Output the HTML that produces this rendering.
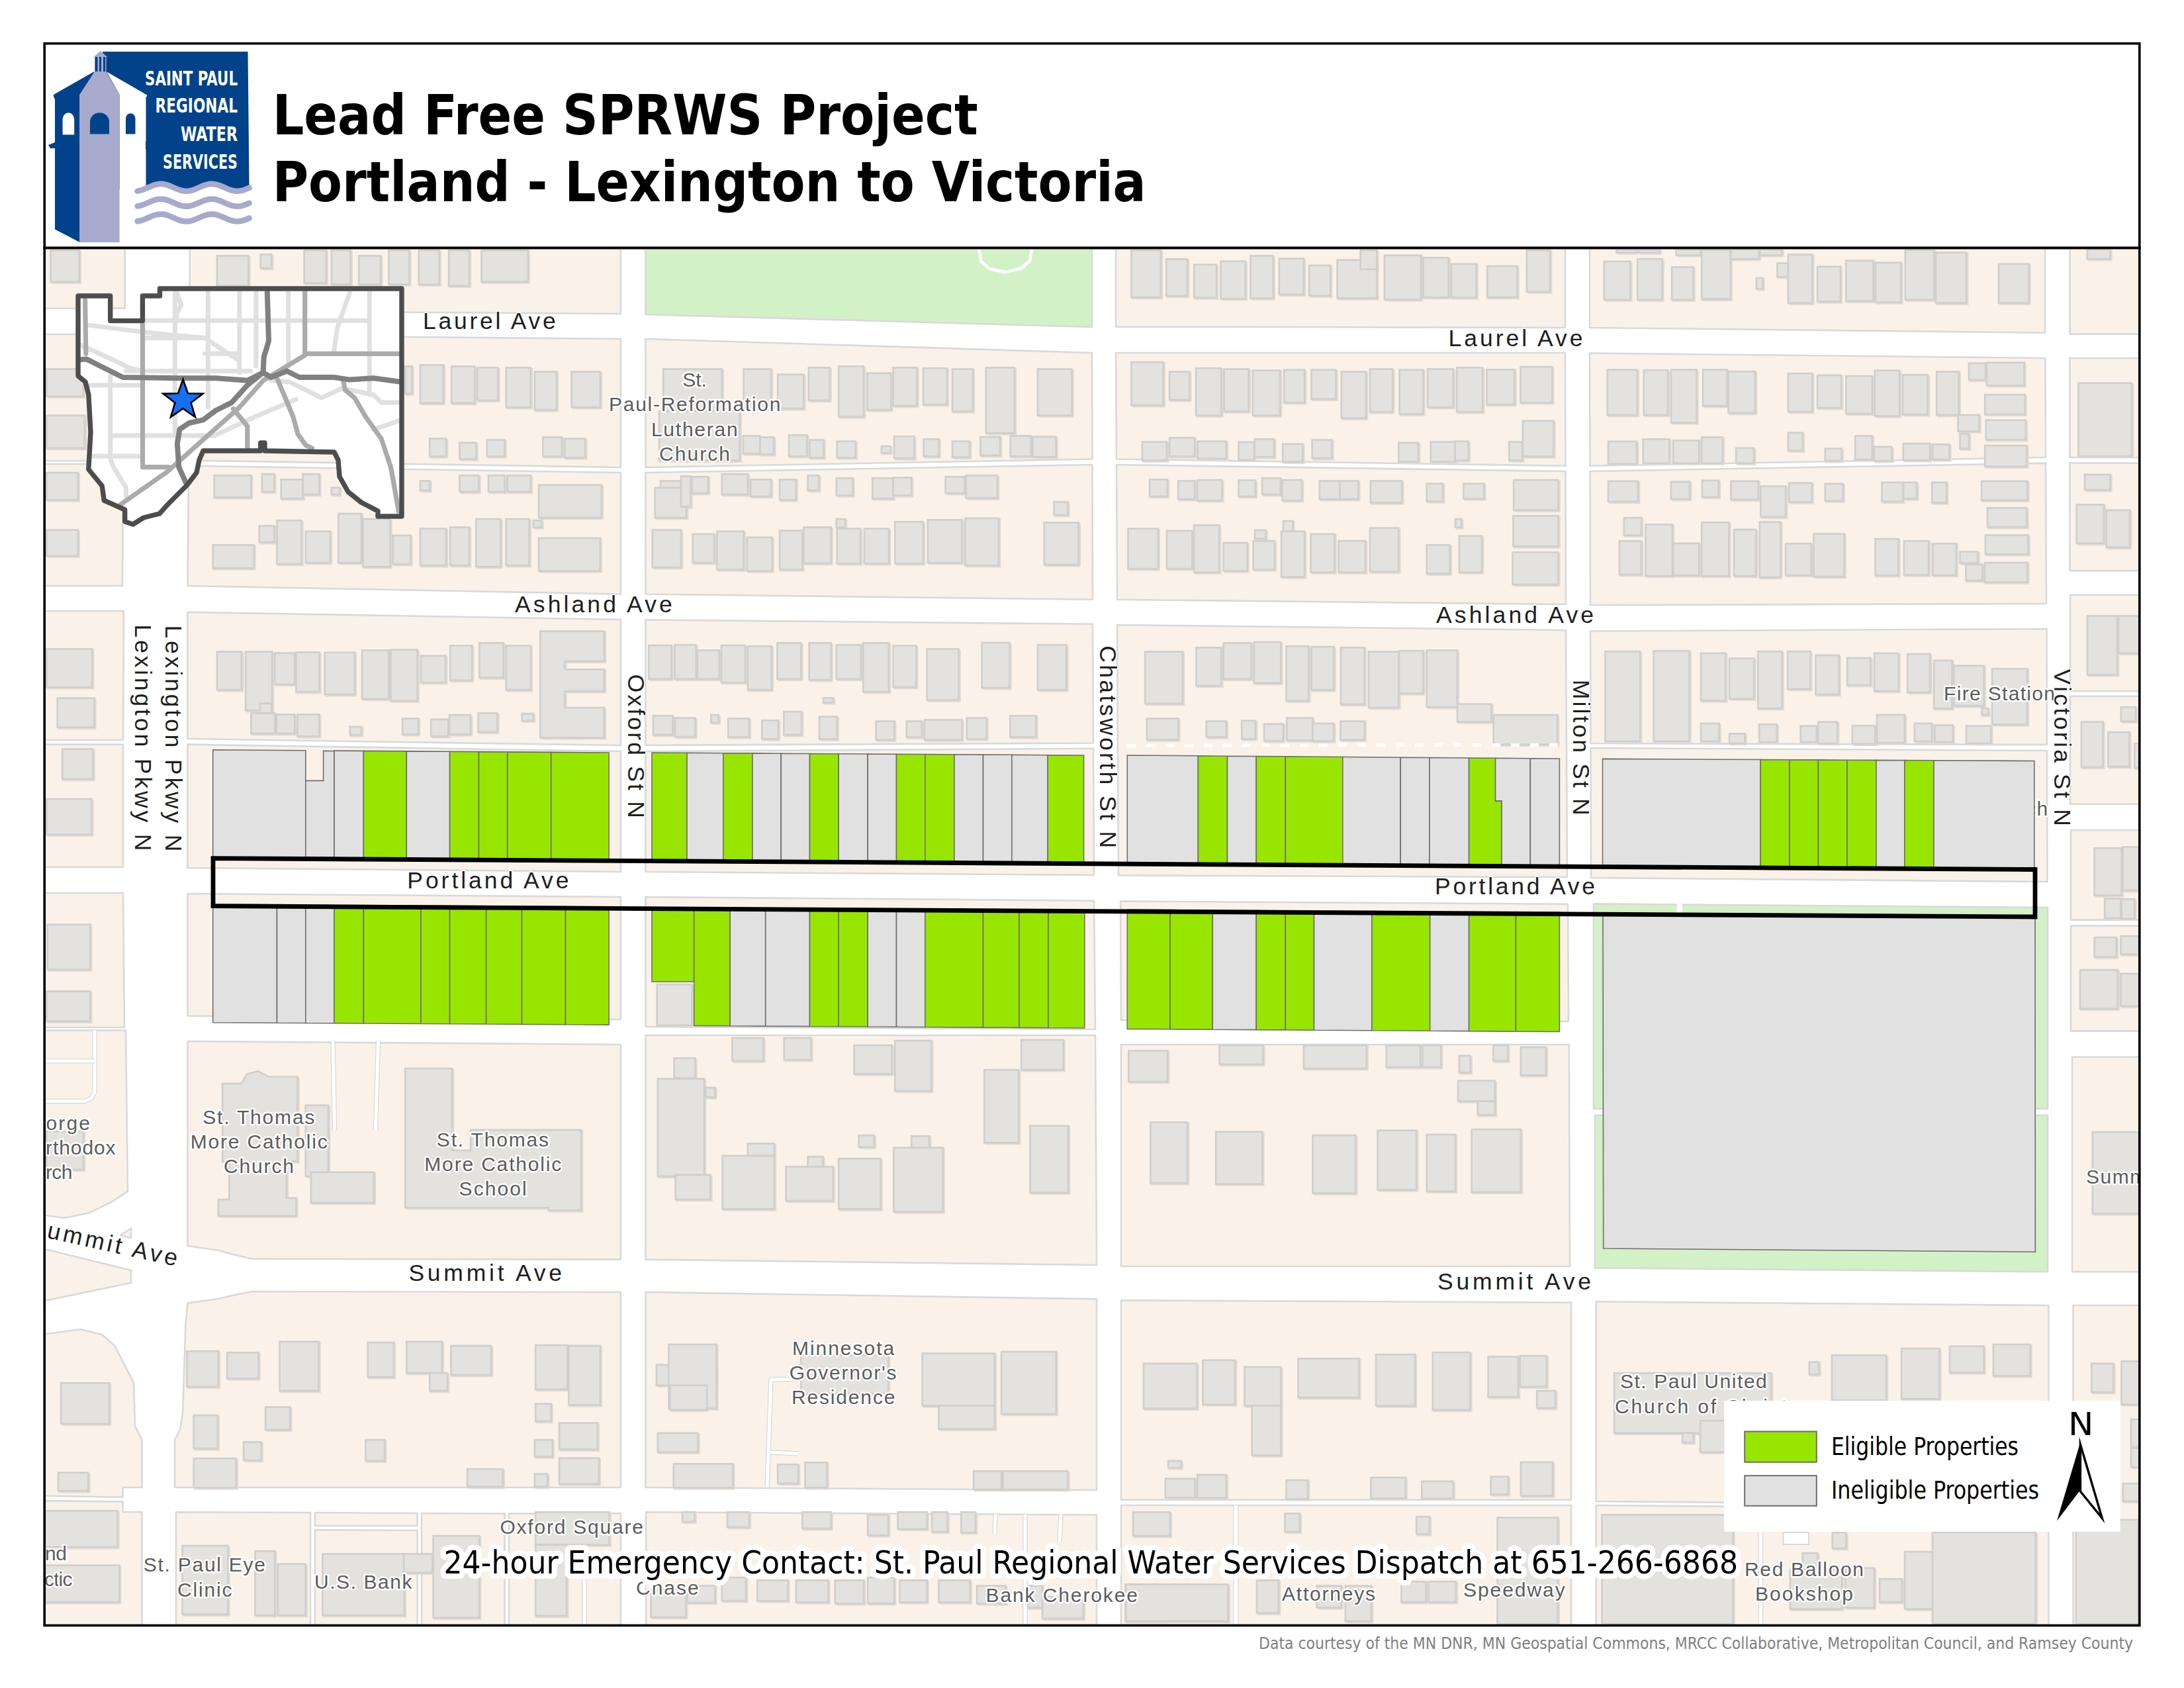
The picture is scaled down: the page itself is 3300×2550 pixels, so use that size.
<!DOCTYPE html>
<html><head><meta charset="utf-8"><title>Lead Free SPRWS Project - Portland - Lexington to Victoria</title>
<style>html,body{margin:0;padding:0;background:#fff;overflow:hidden;}svg{display:block;}</style></head>
<body>
<svg width="3300" height="2550" viewBox="0 0 3300 2550">
<rect width="3300" height="2550" fill="#fff"/>
<defs><clipPath id="mc"><rect x="69" y="377" width="3163" height="2077"/></clipPath><clipPath id="ic"><polygon id="insetpoly" points="118,447 166.7,447 166.7,484.6 215.4,484.6 215.4,447 241.5,447 241.5,436 607,436 607,780 571,780 571,772 546,759 526,743 513,720 511,695 505,683 400,681 400,669 393.8,669 393.8,681 307,681 301,695 297,714 282.5,733 254,761.5 241,776 217,782 201,792 188.7,788 188.7,770 157.3,756 154.2,734 133.8,709 137,652.6 133.8,596 129,577 118,567.8"/></clipPath></defs>
<g clip-path="url(#mc)">
<rect x="60" y="370" width="3180" height="2100" fill="#ffffff"/>
<g stroke="#d9d9d9" stroke-width="2.6" stroke-linejoin="round">
<polygon points="60,370 188.7,370 188.7,465.8 60,465.8" fill="#faf2e9"/>
<polygon points="60,505 188.7,505 188.7,696 60,696" fill="#faf2e9"/>
<polygon points="60,701 186,701 185,885 60,885" fill="#faf2e9"/>
<polygon points="60,923 187,923 186,1118 60,1118" fill="#faf2e9"/>
<polygon points="60,1124.6 186,1124.6 186,1310 60,1310" fill="#faf2e9"/>
<polygon points="60,1349 186,1349 188,1552 60,1552" fill="#faf2e9"/>
<polygon points="60,1556.5 190,1556.5 193,1799.6 170,1815 134,1832.6 97,1840 60,1834.6" fill="#faf2e9"/>
<polygon points="60,1885 198,1919 198,1938 60,1966.5" fill="#faf2e9"/>
<polygon points="182,1866 198,1855.5 198,1870.3" fill="#faf2e9"/>
<polygon points="60,2016.5 121.8,2008 154.8,2016.5 173.3,2033 202,2088.6 204,2154.5 214.5,2175 214.5,2247 185.7,2247 185.7,2261.7 60,2259.6" fill="#faf2e9"/>
<polygon points="60,2267 185.7,2268.6 185.7,2284.3 214.5,2284.3 214.5,2470 60,2470" fill="#faf2e9"/>
<polygon points="286.7,370 938,370 938,474 286.7,469.5" fill="#faf2e9"/>
<polygon points="286.7,506 938,512 938,706 285,695.5" fill="#faf2e9"/>
<polygon points="285,703.8 938,714 938,897.5 283.5,885" fill="#faf2e9"/>
<polygon points="283.5,924.7 938,936 938,1126 283.5,1116" fill="#faf2e9"/>
<polygon points="283.5,1124.6 938,1135 938,1317 283.5,1311" fill="#faf2e9"/>
<polygon points="283.5,1350 938,1355 938,1540 283.5,1534.6" fill="#faf2e9"/>
<polygon points="283.5,1573 938,1578 938,1902.6 381.4,1901.8 360,1897 330,1889 283.5,1882" fill="#faf2e9"/>
<polygon points="283.5,1968.6 330,1962 360,1955 381,1951 938,1952 938,2247 264,2247 264,2175 272,2160 276,2136 280.5,2000" fill="#faf2e9"/>
<polygon points="266,2284.3 469,2285 469,2470 266,2470" fill="#faf2e9"/>
<polygon points="476,2285 630.7,2286 630.7,2305 476,2305" fill="#faf2e9"/>
<polygon points="476,2311 630.7,2312 630.7,2470 476,2470" fill="#faf2e9"/>
<polygon points="637,2286 762.6,2286.5 762.6,2470 637,2470" fill="#faf2e9"/>
<polygon points="769,2286.5 938,2286 938,2470 769,2470" fill="#faf2e9"/>
<polygon points="975.4,370 1650,370 1650,494 975.4,475" fill="#d3f1c7"/>
<polygon points="975.4,512 1650,533 1650.5,693.5 975.4,706" fill="#faf2e9"/>
<polygon points="975.4,714 1650.5,702 1651,905.7 975.4,897.5" fill="#faf2e9"/>
<polygon points="975.4,936.3 1651,942.8 1652,1122.5 975.4,1125.8" fill="#faf2e9"/>
<polygon points="975.4,1135 1652,1130.7 1653,1322 975.4,1317" fill="#faf2e9"/>
<polygon points="975.4,1355 1653,1360.7 1655,1555 975.4,1551" fill="#faf2e9"/>
<polygon points="975.4,1564 1655,1564 1657,1911 975.4,1902.6" fill="#faf2e9"/>
<polygon points="975.4,1952 1657,1962.4 1657,2251 975.4,2247" fill="#faf2e9"/>
<polygon points="976,2284.3 1657,2288.5 1657,2470 976,2470" fill="#faf2e9"/>
<polygon points="1686,370 2365,370 2365,495 1686,493.6" fill="#faf2e9"/>
<polygon points="1686,533 2365,533 2365.5,703.8 1687,693.5" fill="#faf2e9"/>
<polygon points="1687,702 2365.5,712 2366,913 1688,905.7" fill="#faf2e9"/>
<polygon points="1688,944 2366,952 2368,1325 1690,1322.4" fill="#faf2e9"/>
<polygon points="1693,1361.5 2369,1365.7 2370,1543 1694,1541" fill="#faf2e9"/>
<polygon points="1694,1578 2370.8,1578 2372,1913 1694,1913" fill="#faf2e9"/>
<polygon points="1694,1964.4 2374,1967.7 2374,2265.8 1694,2265.8" fill="#faf2e9"/>
<polygon points="1694,2274 2374,2274 2374,2470 1694,2470" fill="#faf2e9"/>
<polygon points="2402,370 3090,370 3090,502.7 2402,495" fill="#faf2e9"/>
<polygon points="2402,533.5 3090.5,541 3091,691 2402.5,703.8" fill="#faf2e9"/>
<polygon points="2402.5,712 3091,699.6 3092,912 2403,914" fill="#faf2e9"/>
<polygon points="2403,953.5 3092.5,950 3093,1125 2403.5,1123" fill="#faf2e9"/>
<polygon points="2403.5,1130 3093,1134 3093.4,1332 2404,1326" fill="#faf2e9"/>
<polygon points="2408,1365.4 3094,1371 3094,1675 2408,1675" fill="#d3f1c7"/>
<polygon points="2409.8,1684.7 3094,1684.7 3094,1921.3 2409.8,1915.4" fill="#d3f1c7"/>
<polygon points="2411.7,1966.3 3095.3,1972 3095.3,2274 2411.7,2268" fill="#faf2e9"/>
<polygon points="2411.7,2274 3095.3,2280 3095.3,2470 2411.7,2470" fill="#faf2e9"/>
<polygon points="3127.5,370 3240,370 3240,504.6 3127.5,504.6" fill="#faf2e9"/>
<polygon points="3127.5,541 3240,541 3240,691 3127.5,691" fill="#faf2e9"/>
<polygon points="3127.5,699.6 3240,699.6 3240,862.3 3127.5,862.3" fill="#faf2e9"/>
<polygon points="3128,898.8 3240,898.8 3240,1044 3128,1044" fill="#faf2e9"/>
<polygon points="3128,1051.7 3240,1051.7 3240,1214.8 3128,1214.8" fill="#faf2e9"/>
<polygon points="3129,1254 3240,1254 3240,1389.6 3129,1389.6" fill="#faf2e9"/>
<polygon points="3129,1398.6 3240,1398.6 3240,1557.6 3129,1557.6" fill="#faf2e9"/>
<polygon points="3131,1596.7 3240,1596.7 3240,1921.3 3131,1921.3" fill="#faf2e9"/>
<polygon points="3132.5,1972 3240,1972 3240,2470 3132.5,2470" fill="#faf2e9"/>
</g>
<line x1="2537.8" y1="1365" x2="2537.8" y2="1380" stroke="#fff" stroke-width="8"/>
<g fill="#e2dbd2" stroke="#e2dbd2" stroke-width="2.6" transform="translate(2,2)">
<rect x="76.5" y="378.2" width="43.3" height="47.4"/>
<rect x="70.3" y="557.5" width="55.6" height="41.2"/>
<rect x="70.3" y="627.6" width="57.7" height="49.4"/>
<rect x="70.3" y="714.1" width="47.4" height="41.2"/>
<rect x="70.3" y="800.6" width="47.4" height="39.1"/>
<rect x="327.9" y="386.5" width="47.4" height="45.3"/>
<rect x="393.8" y="384.4" width="16.5" height="20.6"/>
<rect x="459.7" y="378.2" width="33" height="49.4"/>
<rect x="500.9" y="378.2" width="28.8" height="51.5"/>
<rect x="542.1" y="386.5" width="33" height="43.3"/>
<rect x="587.5" y="378.2" width="30.9" height="51.5"/>
<rect x="632.8" y="378.2" width="30.9" height="51.5"/>
<rect x="678.1" y="378.2" width="30.9" height="53.6"/>
<rect x="727.6" y="378.2" width="70.1" height="47.4"/>
<rect x="612.2" y="553.4" width="10.3" height="41.2"/>
<rect x="634.9" y="551.3" width="35" height="57.7"/>
<rect x="682.2" y="553.4" width="35" height="55.6"/>
<rect x="721.4" y="555.4" width="30.9" height="49.4"/>
<rect x="764.7" y="555.4" width="37.1" height="59.8"/>
<rect x="807.9" y="561.6" width="33" height="57.7"/>
<rect x="863.6" y="561.6" width="43.3" height="53.6"/>
<rect x="649.3" y="662.6" width="24.7" height="26.8"/>
<rect x="694.6" y="668.8" width="24.7" height="24.7"/>
<rect x="735.8" y="664.6" width="26.8" height="24.7"/>
<rect x="820.3" y="660.5" width="28.8" height="28.8"/>
<rect x="853.3" y="662.6" width="30.9" height="28.8"/>
<rect x="323.7" y="718.2" width="55.6" height="33"/>
<rect x="395.8" y="716.1" width="18.5" height="26.8"/>
<rect x="424.7" y="724.4" width="33" height="28.8"/>
<rect x="457.7" y="716.1" width="24.7" height="30.9"/>
<rect x="500.9" y="736.8" width="12.4" height="10.3"/>
<rect x="634.9" y="726.5" width="14.4" height="14.4"/>
<rect x="694.6" y="718.2" width="28.8" height="24.7"/>
<rect x="737.9" y="718.2" width="24.7" height="24.7"/>
<rect x="766.7" y="718.2" width="35" height="24.7"/>
<rect x="814.1" y="732.6" width="94.8" height="49.4"/>
<rect x="391.7" y="794.4" width="22.7" height="24.7"/>
<rect x="418.5" y="786.2" width="37.1" height="65.9"/>
<rect x="461.8" y="802.7" width="37.1" height="47.4"/>
<rect x="511.2" y="775.9" width="35" height="74.2"/>
<rect x="548.3" y="784.1" width="41.2" height="72.1"/>
<rect x="593.6" y="808.9" width="26.8" height="43.3"/>
<rect x="634.9" y="798.6" width="39.1" height="55.6"/>
<rect x="680.2" y="796.5" width="28.8" height="57.7"/>
<rect x="719.3" y="784.1" width="37.1" height="72.1"/>
<rect x="764.7" y="784.1" width="35" height="70.1"/>
<rect x="814.1" y="813" width="92.7" height="49.4"/>
<rect x="321.7" y="823.3" width="61.8" height="35"/>
<rect x="805.9" y="786.2" width="12.4" height="10.3"/>
<rect x="1002.2" y="557.5" width="88.6" height="63.9"/>
<rect x="996" y="621.4" width="121.6" height="74.2"/>
<rect x="1123.7" y="557.5" width="41.2" height="59.8"/>
<rect x="1175.2" y="565.7" width="39.1" height="51.5"/>
<rect x="1221.8" y="555.4" width="31.7" height="49.4"/>
<rect x="1267.1" y="553.4" width="37.9" height="76.2"/>
<rect x="1310.4" y="563.7" width="35.9" height="55.6"/>
<rect x="1349.6" y="555.4" width="35.9" height="57.7"/>
<rect x="1394.9" y="556.3" width="35.9" height="54.8"/>
<rect x="1439" y="557.5" width="30.9" height="63.9"/>
<rect x="1489.7" y="555.4" width="43.3" height="98.9"/>
<rect x="1568" y="557.5" width="51.5" height="70.1"/>
<rect x="1122.9" y="658.5" width="25.5" height="26.8"/>
<rect x="1148.5" y="660.5" width="20.6" height="26"/>
<rect x="1192.1" y="657.2" width="27.2" height="32.1"/>
<rect x="1223.5" y="664.6" width="21" height="26.8"/>
<rect x="1264.7" y="666.7" width="28" height="24.7"/>
<rect x="1331.8" y="674.1" width="13.6" height="9.9"/>
<rect x="1351.2" y="659.3" width="30.1" height="33"/>
<rect x="1395.7" y="663.4" width="22.7" height="26"/>
<rect x="1439" y="666.7" width="26" height="23.9"/>
<rect x="1481.4" y="660.1" width="29.7" height="28"/>
<rect x="1526.7" y="658.5" width="30.9" height="30.9"/>
<rect x="1560.5" y="659.7" width="35" height="30.5"/>
<rect x="989.8" y="736.8" width="47.4" height="45.3"/>
<rect x="998" y="726.5" width="30.9" height="10.3"/>
<rect x="1029" y="719.4" width="14.4" height="46.2"/>
<rect x="1045.4" y="720.3" width="24.7" height="24.7"/>
<rect x="1090.8" y="716.1" width="39.1" height="30.9"/>
<rect x="1134" y="724.4" width="30.9" height="25.5"/>
<rect x="1178.1" y="724.4" width="24.7" height="30.9"/>
<rect x="1220.6" y="718.2" width="16.5" height="22.7"/>
<rect x="1263.8" y="722.3" width="24.7" height="26"/>
<rect x="1318.2" y="722.3" width="31.3" height="30.9"/>
<rect x="1349.6" y="721.5" width="27.6" height="26.8"/>
<rect x="1428.7" y="720.3" width="28.8" height="24.7"/>
<rect x="1459.6" y="718.2" width="47.4" height="34.2"/>
<rect x="1592.7" y="758.2" width="20.6" height="19.8"/>
<rect x="985.7" y="800.6" width="43.3" height="56.5"/>
<rect x="1046.7" y="806.8" width="32.6" height="43.3"/>
<rect x="1083.3" y="802.7" width="40.4" height="57.7"/>
<rect x="1128.7" y="811.8" width="37.9" height="50.7"/>
<rect x="1178.1" y="801.5" width="34.2" height="58.9"/>
<rect x="1214.4" y="796.5" width="41.2" height="54.4"/>
<rect x="1263.8" y="784.1" width="13.2" height="12.4"/>
<rect x="1264.7" y="798.6" width="35.4" height="52.7"/>
<rect x="1305.9" y="798.6" width="37.1" height="52.7"/>
<rect x="1352.4" y="788.3" width="42.4" height="63"/>
<rect x="1401.9" y="785.4" width="51.5" height="64.7"/>
<rect x="1458.3" y="782.9" width="50.7" height="71.3"/>
<rect x="1577.8" y="789.5" width="51.9" height="63.5"/>
<rect x="1709.4" y="378.2" width="44.5" height="70.9"/>
<rect x="1762.2" y="391.4" width="31.7" height="55.6"/>
<rect x="1804.2" y="399.7" width="33.8" height="49.9"/>
<rect x="1844.6" y="394.7" width="37.1" height="56.5"/>
<rect x="1889.5" y="386.5" width="34.2" height="63.9"/>
<rect x="1932.8" y="390.6" width="37.1" height="54.4"/>
<rect x="1978.1" y="400.9" width="32.1" height="45.7"/>
<rect x="2020.6" y="392.7" width="59.8" height="57.7"/>
<rect x="2055.6" y="378.2" width="24.7" height="28.8"/>
<rect x="2091.9" y="385.7" width="55.2" height="66.8"/>
<rect x="2150.4" y="389.4" width="38.3" height="59.8"/>
<rect x="2192.8" y="398.8" width="37.9" height="50.7"/>
<rect x="2247.2" y="402.1" width="45.3" height="47"/>
<rect x="2307" y="378.2" width="35" height="62.6"/>
<rect x="1709.4" y="547.2" width="48.2" height="65.1"/>
<rect x="1767.1" y="561.6" width="30.1" height="42.4"/>
<rect x="1807.1" y="556.3" width="38.3" height="71.3"/>
<rect x="1849.6" y="557.5" width="37.1" height="63.9"/>
<rect x="1892.8" y="559.6" width="41.2" height="68"/>
<rect x="1940.2" y="558.7" width="30.9" height="49.4"/>
<rect x="1981.4" y="558.7" width="37.1" height="44.1"/>
<rect x="2026.8" y="561.6" width="37.1" height="70.1"/>
<rect x="2070" y="557.5" width="34.2" height="64.7"/>
<rect x="2114.5" y="558.7" width="35.9" height="66.8"/>
<rect x="2157" y="557.5" width="38.7" height="57.7"/>
<rect x="2201.1" y="555.4" width="39.1" height="66.8"/>
<rect x="2246.4" y="558.3" width="42" height="52.7"/>
<rect x="2297.5" y="554.2" width="47.8" height="54"/>
<rect x="1725.9" y="667.5" width="37.1" height="28"/>
<rect x="1767.1" y="661.3" width="37.9" height="28"/>
<rect x="1809.6" y="666.7" width="43.3" height="26"/>
<rect x="1871.4" y="667.9" width="23.5" height="26.8"/>
<rect x="1895.7" y="663.4" width="29.3" height="26.8"/>
<rect x="1938.2" y="670.8" width="30.1" height="26.8"/>
<rect x="1982.7" y="664.6" width="29.7" height="27.6"/>
<rect x="2113.3" y="668.8" width="29.7" height="28.8"/>
<rect x="2161.9" y="667.5" width="36.7" height="30.1"/>
<rect x="2198.6" y="666.7" width="20.2" height="28.8"/>
<rect x="2280.2" y="667.5" width="19.8" height="28"/>
<rect x="2300.8" y="635.8" width="46.6" height="53.6"/>
<rect x="1737.1" y="724.4" width="26.8" height="25.5"/>
<rect x="1780.3" y="726.5" width="24.7" height="27.6"/>
<rect x="1809.2" y="725.2" width="37.1" height="30.9"/>
<rect x="1871.4" y="725.6" width="25.5" height="24.3"/>
<rect x="1907.2" y="722.3" width="27.6" height="24.7"/>
<rect x="1937.3" y="725.2" width="29.7" height="30.9"/>
<rect x="1993.8" y="726.5" width="30.9" height="27.6"/>
<rect x="2024.7" y="726.5" width="27.6" height="27.6"/>
<rect x="2070.8" y="726.5" width="47.4" height="33"/>
<rect x="2155.7" y="730.6" width="24.3" height="26.8"/>
<rect x="2211.4" y="730.6" width="30.9" height="22.7"/>
<rect x="2287.2" y="725.2" width="67.2" height="45.3"/>
<rect x="2286.4" y="779.2" width="68" height="46.2"/>
<rect x="2285.5" y="834.4" width="68.8" height="48.6"/>
<rect x="2199" y="784.1" width="9.1" height="12.4"/>
<rect x="1704.5" y="798.6" width="45.3" height="60.6"/>
<rect x="1763" y="801.9" width="38.3" height="57.3"/>
<rect x="1804.2" y="793.2" width="37.9" height="71.3"/>
<rect x="1848.7" y="820" width="35.9" height="42.4"/>
<rect x="1893.7" y="817.1" width="32.1" height="43.3"/>
<rect x="1936.1" y="802.7" width="35" height="68.8"/>
<rect x="1939" y="787" width="14.4" height="15.7"/>
<rect x="1896.1" y="801" width="16.5" height="12.8"/>
<rect x="1980.6" y="806.8" width="35.9" height="57.7"/>
<rect x="2022.6" y="817.1" width="40.4" height="47.4"/>
<rect x="2070" y="797.7" width="43.3" height="65.9"/>
<rect x="2155.7" y="823.3" width="35" height="43.3"/>
<rect x="2204.8" y="809.7" width="34.2" height="54.8"/>
<rect x="2423.8" y="395" width="39.6" height="57.7"/>
<rect x="2474.2" y="391.2" width="37.3" height="61.5"/>
<rect x="2526.2" y="403.5" width="32.3" height="49.2"/>
<rect x="2571.2" y="377.7" width="43.5" height="74.2"/>
<rect x="2653.8" y="420" width="9.6" height="16.2"/>
<rect x="2685.4" y="397.7" width="16.5" height="20.4"/>
<rect x="2701.9" y="384.6" width="36.5" height="73.1"/>
<rect x="2746.2" y="402.7" width="34.6" height="52.7"/>
<rect x="2789.2" y="393.8" width="41.5" height="60.8"/>
<rect x="2833.8" y="396.9" width="38.5" height="59.6"/>
<rect x="2878.8" y="377.7" width="43.5" height="75"/>
<rect x="2925" y="381.5" width="46.2" height="76.2"/>
<rect x="3020" y="398.8" width="45.4" height="58.8"/>
<rect x="2442.3" y="376.9" width="30.8" height="4.6"/>
<rect x="2476.9" y="376.9" width="30.8" height="4.6"/>
<rect x="2532.7" y="376.9" width="36.5" height="8.5"/>
<rect x="2615.4" y="376.9" width="42.3" height="14.2"/>
<rect x="2659.6" y="376.9" width="32.7" height="8.5"/>
<rect x="3153.8" y="376.9" width="34.6" height="14.2"/>
<rect x="2428.8" y="558.5" width="45" height="68.5"/>
<rect x="2483.8" y="559.2" width="36.2" height="67.7"/>
<rect x="2525" y="558.5" width="38.5" height="80"/>
<rect x="2573.1" y="558.5" width="36.5" height="54.6"/>
<rect x="2611.5" y="561.2" width="40.4" height="62.7"/>
<rect x="2701.9" y="564.2" width="36.5" height="57.7"/>
<rect x="2746.2" y="566.9" width="35.8" height="49.2"/>
<rect x="2789.2" y="568.1" width="39.6" height="56.9"/>
<rect x="2832.7" y="559.6" width="37.3" height="68.8"/>
<rect x="2875" y="566.2" width="37.7" height="60"/>
<rect x="2926.2" y="561.5" width="33.5" height="65.4"/>
<rect x="2975" y="548.8" width="25" height="25"/>
<rect x="3001.9" y="547.7" width="56.5" height="34.6"/>
<rect x="2999.2" y="596.2" width="60.4" height="29.6"/>
<rect x="2958.5" y="626.9" width="31.9" height="24.6"/>
<rect x="3000.8" y="634.6" width="60" height="29.6"/>
<rect x="2961.5" y="655.4" width="13.5" height="22.3"/>
<rect x="2999.2" y="673.1" width="63.1" height="31.5"/>
<rect x="2430" y="666.9" width="43.1" height="33.8"/>
<rect x="2482.7" y="663.5" width="39.6" height="36.2"/>
<rect x="2528.1" y="665.4" width="39.2" height="34.2"/>
<rect x="2571.2" y="660.4" width="31.5" height="39.2"/>
<rect x="2623.1" y="676.9" width="26.9" height="22.7"/>
<rect x="2701.9" y="653.8" width="21.9" height="26.9"/>
<rect x="2757.7" y="677.7" width="25" height="18.5"/>
<rect x="2803.1" y="658.5" width="25.8" height="35.8"/>
<rect x="2831.9" y="675" width="26.5" height="21.2"/>
<rect x="2875.8" y="670" width="40.4" height="25"/>
<rect x="2920" y="671.2" width="25.4" height="23.1"/>
<rect x="3140.4" y="578.8" width="80.8" height="110.4"/>
<rect x="2430" y="726.9" width="45" height="30.8"/>
<rect x="2525" y="727.7" width="28.1" height="26.2"/>
<rect x="2571.9" y="725.8" width="25" height="25"/>
<rect x="2615.4" y="726.9" width="41.5" height="27.7"/>
<rect x="2660.4" y="734.6" width="37.7" height="46.2"/>
<rect x="2703.1" y="729.6" width="34.6" height="28.8"/>
<rect x="2757.7" y="730.8" width="26.9" height="25.8"/>
<rect x="2843.5" y="728.8" width="31.5" height="28.8"/>
<rect x="2876.2" y="728.8" width="20" height="24.6"/>
<rect x="2919.2" y="728.8" width="21.9" height="30.8"/>
<rect x="2994.2" y="726.9" width="69.2" height="28.8"/>
<rect x="3003.1" y="767.3" width="59.2" height="28.8"/>
<rect x="3000" y="808.5" width="64.6" height="28.8"/>
<rect x="2998.8" y="850" width="64.6" height="29.6"/>
<rect x="2453.8" y="782.3" width="26.2" height="26.2"/>
<rect x="2446.9" y="817.3" width="33.1" height="50.8"/>
<rect x="2486.5" y="792.3" width="40.4" height="77.7"/>
<rect x="2528.1" y="820.8" width="39.2" height="48.5"/>
<rect x="2571.2" y="789.2" width="41.2" height="80.8"/>
<rect x="2620" y="800" width="33.1" height="70"/>
<rect x="2658.8" y="788.5" width="31.5" height="83.5"/>
<rect x="2698.1" y="821.2" width="38.8" height="47.7"/>
<rect x="2740.4" y="806.5" width="46.2" height="64.6"/>
<rect x="2833.5" y="814.2" width="35" height="55"/>
<rect x="2876.9" y="817.3" width="37.3" height="51.2"/>
<rect x="2920" y="821.2" width="35.8" height="47.7"/>
<rect x="2961.5" y="833.5" width="26.9" height="17.3"/>
<rect x="2970.4" y="852.7" width="25" height="24.2"/>
<rect x="3150" y="716.9" width="38.5" height="23.1"/>
<rect x="3137.7" y="762.3" width="41.2" height="58.5"/>
<rect x="3182.7" y="770.8" width="35.4" height="56.2"/>
<rect x="70.3" y="980.4" width="68.8" height="57.7"/>
<rect x="86.8" y="1054.5" width="55.6" height="44.1"/>
<rect x="94.2" y="1131.6" width="46.2" height="45.3"/>
<rect x="70.3" y="1207" width="68" height="53.6"/>
<rect x="71.5" y="1396.6" width="64.7" height="68"/>
<rect x="70.3" y="1497.5" width="65.9" height="45.3"/>
<rect x="327.9" y="984.5" width="37.1" height="57.7"/>
<rect x="371.1" y="984.5" width="40" height="88.6"/>
<rect x="415.2" y="986.5" width="30.1" height="47.4"/>
<rect x="447.4" y="985.3" width="35" height="59.8"/>
<rect x="490.6" y="985.7" width="45.3" height="63.5"/>
<rect x="547.1" y="982.4" width="40.4" height="73.4"/>
<rect x="590.3" y="981.6" width="40.4" height="77.1"/>
<rect x="636.1" y="990.7" width="37.1" height="40.4"/>
<rect x="680.2" y="975.4" width="33" height="52.3"/>
<rect x="724.3" y="971.3" width="36.3" height="52.3"/>
<rect x="764.7" y="975.4" width="37.1" height="66.8"/>
<rect x="379.4" y="1077.2" width="35.9" height="30.9"/>
<rect x="393" y="1062.8" width="17.3" height="14.4"/>
<rect x="417.7" y="1079.3" width="27.6" height="28.8"/>
<rect x="449.4" y="1079.3" width="33" height="33"/>
<rect x="528.9" y="1097.8" width="17.3" height="12.4"/>
<rect x="608.1" y="1085.4" width="23.9" height="23.9"/>
<rect x="651.3" y="1086.7" width="26" height="25.5"/>
<rect x="678.9" y="1080.1" width="32.1" height="29.3"/>
<rect x="722.6" y="1077.2" width="28.8" height="28.8"/>
<rect x="788.6" y="1078" width="17.3" height="10.7"/>
<rect x="980.3" y="975" width="34.2" height="50.7"/>
<rect x="1019.5" y="974.2" width="32.1" height="51.5"/>
<rect x="1053.7" y="982.4" width="33" height="43.3"/>
<rect x="1089.9" y="975" width="35.9" height="56"/>
<rect x="1129.9" y="976.2" width="35.9" height="65.9"/>
<rect x="1174.4" y="971.3" width="35.9" height="54.4"/>
<rect x="1222.6" y="971.3" width="33" height="55.6"/>
<rect x="1263.8" y="974.2" width="37.1" height="51.5"/>
<rect x="1304.2" y="971.3" width="38.7" height="73.8"/>
<rect x="1349.6" y="975.4" width="34.6" height="62.6"/>
<rect x="1400.7" y="980.4" width="47.8" height="77.1"/>
<rect x="1483.5" y="970.9" width="42" height="68"/>
<rect x="1568" y="974.2" width="43.3" height="68"/>
<rect x="1244.1" y="1054.5" width="14.8" height="7"/>
<rect x="986.9" y="1081.3" width="29.7" height="28.8"/>
<rect x="1019.9" y="1084.6" width="30.5" height="28.4"/>
<rect x="1074.3" y="1080.1" width="11.5" height="11.5"/>
<rect x="1100.2" y="1085.4" width="31.7" height="28"/>
<rect x="1151.3" y="1088.3" width="24.7" height="28"/>
<rect x="1184.3" y="1075.1" width="26.8" height="35"/>
<rect x="1237.9" y="1082.6" width="26.8" height="33.8"/>
<rect x="1323.6" y="1089.6" width="27.6" height="28"/>
<rect x="1369.7" y="1089.6" width="23.1" height="23.9"/>
<rect x="1396.9" y="1087.5" width="56.5" height="30.1"/>
<rect x="1460.8" y="1084.6" width="29.7" height="31.7"/>
<rect x="1526.3" y="1081.3" width="39.1" height="32.1"/>
<rect x="992.7" y="1487.2" width="52.7" height="61.8"/>
<rect x="1730.1" y="984.5" width="56.9" height="78.3"/>
<rect x="1807.5" y="978.3" width="37.9" height="57.7"/>
<rect x="1848.7" y="971.3" width="42" height="54.4"/>
<rect x="1894.9" y="970.1" width="40.4" height="61.8"/>
<rect x="1943.5" y="976.2" width="33.8" height="82.4"/>
<rect x="1981.4" y="977.1" width="33.8" height="65.1"/>
<rect x="2025.9" y="978.3" width="35.9" height="85.7"/>
<rect x="2068" y="984.5" width="45.3" height="84.5"/>
<rect x="2114.1" y="983.2" width="36.3" height="64.3"/>
<rect x="2155.7" y="982.4" width="46.2" height="85.7"/>
<rect x="2201.9" y="1063.6" width="51.5" height="26.8"/>
<rect x="2256.7" y="1080.1" width="96.4" height="44.5"/>
<rect x="1732.9" y="1085.4" width="47.4" height="32.1"/>
<rect x="1822.8" y="1089.6" width="30.1" height="23.9"/>
<rect x="1876.3" y="1088.7" width="20.6" height="27.6"/>
<rect x="1910.1" y="1093.7" width="28.8" height="25.5"/>
<rect x="1944.3" y="1084.6" width="39.1" height="33.8"/>
<rect x="1983.5" y="1092.9" width="31.7" height="26.8"/>
<rect x="2025.5" y="1089.6" width="36.3" height="28"/>
<rect x="2425.4" y="984.1" width="52.8" height="135.7"/>
<rect x="2498.6" y="983.3" width="54" height="136.5"/>
<rect x="2570.1" y="986.8" width="37.2" height="71.6"/>
<rect x="2613.1" y="994.6" width="37.2" height="61"/>
<rect x="2656.2" y="984.1" width="36.4" height="86"/>
<rect x="2701.1" y="984.1" width="34.4" height="56.7"/>
<rect x="2743.4" y="989.9" width="35.2" height="59.4"/>
<rect x="2791.1" y="993.9" width="35.2" height="41.1"/>
<rect x="2832.1" y="986.8" width="36.4" height="57.1"/>
<rect x="2882.2" y="988" width="34" height="57.9"/>
<rect x="2922.1" y="997.8" width="27.4" height="72.4"/>
<rect x="2952.2" y="1005.6" width="45.4" height="60.6"/>
<rect x="3010.1" y="1010.3" width="52.8" height="84.1"/>
<rect x="2994.4" y="1070.1" width="9.8" height="9.8"/>
<rect x="2570.1" y="1092.8" width="27.4" height="27"/>
<rect x="2613.1" y="1108.4" width="23.5" height="14.5"/>
<rect x="2658.1" y="1094.4" width="26.6" height="26.6"/>
<rect x="2720.7" y="1096.7" width="24.2" height="24.2"/>
<rect x="2747.3" y="1090.5" width="28.9" height="32.5"/>
<rect x="2798.9" y="1096.3" width="34.4" height="27.4"/>
<rect x="2836.1" y="1079.9" width="41.8" height="42.2"/>
<rect x="2892.8" y="1092.8" width="26.2" height="27"/>
<rect x="2923.3" y="1095.5" width="27.4" height="25.4"/>
<rect x="2971" y="1096.7" width="37.2" height="26.2"/>
<rect x="3154" y="930.5" width="45" height="88.8"/>
<rect x="3200.9" y="930.5" width="30.9" height="56.3"/>
<rect x="3204.8" y="1068.2" width="22.3" height="21.5"/>
<rect x="3145" y="1090.5" width="32.5" height="68.4"/>
<rect x="3185.3" y="1106.1" width="32.1" height="52"/>
<rect x="3225.2" y="1122.9" width="6.6" height="37.2"/>
<rect x="3164.6" y="1281.3" width="41.1" height="71.2"/>
<rect x="3207.6" y="1279.4" width="24.2" height="65.7"/>
<rect x="3180.2" y="1357.6" width="24.2" height="29.3"/>
<rect x="3205.6" y="1358.3" width="19.6" height="29.7"/>
<rect x="3164.6" y="1416.2" width="33.2" height="29.3"/>
<rect x="3204.5" y="1414.3" width="27.4" height="27.4"/>
<rect x="3143.1" y="1465.1" width="56.7" height="58.7"/>
<rect x="3204.5" y="1471" width="27.4" height="48.9"/>
<rect x="70.3" y="1709" width="55.6" height="57.7"/>
<rect x="461.8" y="1669.8" width="34.2" height="107.1"/>
<rect x="470" y="1770.8" width="94.8" height="46.2"/>
<rect x="92.1" y="2089.3" width="72.9" height="61.4"/>
<rect x="1106.4" y="1568" width="47" height="34.6"/>
<rect x="1184.7" y="1568" width="40.8" height="33"/>
<rect x="1290.6" y="1579.1" width="56.9" height="43.3"/>
<rect x="1352.4" y="1572.1" width="54.8" height="75.8"/>
<rect x="1543.2" y="1570.9" width="63.5" height="45.3"/>
<rect x="1018.7" y="1598.5" width="31.7" height="30.1"/>
<rect x="993.9" y="1629.8" width="70.1" height="147.1"/>
<rect x="1020.7" y="1774.9" width="52.7" height="37.1"/>
<rect x="1066" y="1643" width="14.4" height="14.4"/>
<rect x="1091.6" y="1746" width="78.3" height="80.4"/>
<rect x="1129.9" y="1727.5" width="40" height="18.5"/>
<rect x="1187.6" y="1762.5" width="71.3" height="51.5"/>
<rect x="1220.6" y="1747.3" width="22.7" height="15.2"/>
<rect x="1267.1" y="1750.2" width="63.5" height="76.2"/>
<rect x="1297.6" y="1715.1" width="23.1" height="17.7"/>
<rect x="1350.4" y="1733.7" width="74.2" height="96.8"/>
<rect x="1377.2" y="1716.4" width="26.8" height="17.3"/>
<rect x="1487.2" y="1616.2" width="51.9" height="110"/>
<rect x="1556.4" y="1700.7" width="57.7" height="101"/>
<rect x="1705.3" y="1587.4" width="58.9" height="46.6"/>
<rect x="1842.6" y="1579.1" width="65.9" height="28.8"/>
<rect x="1969.9" y="1579.1" width="94.8" height="35"/>
<rect x="2094.7" y="1579.1" width="51.5" height="33"/>
<rect x="2149.6" y="1579.1" width="27.6" height="33"/>
<rect x="2204.8" y="1594.8" width="16.9" height="25.5"/>
<rect x="2256.3" y="1579.1" width="21.8" height="23.5"/>
<rect x="2297.9" y="1582" width="37.9" height="42.4"/>
<rect x="2203.1" y="1632.7" width="55.6" height="30.9"/>
<rect x="2232.8" y="1663.6" width="26" height="20.6"/>
<rect x="1738.3" y="1695.4" width="55.6" height="91.9"/>
<rect x="1837.2" y="1709.8" width="70.1" height="78.7"/>
<rect x="1983.5" y="1715.1" width="64.7" height="87.4"/>
<rect x="2081.6" y="1707.7" width="58.5" height="89.8"/>
<rect x="2155.7" y="1713.9" width="43.3" height="85.7"/>
<rect x="2223.7" y="1706.1" width="74.2" height="94.8"/>
<rect x="3161.8" y="1710.1" width="70" height="123.2"/>
<rect x="88" y="2224.6" width="45.3" height="27.6"/>
<rect x="282.5" y="2041.2" width="47.4" height="53.6"/>
<rect x="343.1" y="2043.3" width="47.4" height="39.1"/>
<rect x="422.6" y="2026.8" width="58.9" height="74.2"/>
<rect x="555.7" y="2028" width="39.1" height="52.3"/>
<rect x="614.3" y="2026.8" width="53.6" height="47.4"/>
<rect x="649.3" y="2074.2" width="26.8" height="26.8"/>
<rect x="681.4" y="2033" width="60.6" height="44.1"/>
<rect x="809.2" y="2032.1" width="48.2" height="66.8"/>
<rect x="859.4" y="2033" width="47.4" height="89.4"/>
<rect x="292.8" y="2138" width="35.9" height="50.3"/>
<rect x="401.2" y="2125.7" width="37.1" height="34.2"/>
<rect x="368.2" y="2178.4" width="26.4" height="27.6"/>
<rect x="552.4" y="2175.1" width="28.8" height="31.7"/>
<rect x="809.2" y="2120.7" width="23.5" height="26.4"/>
<rect x="845" y="2149.6" width="57.7" height="40"/>
<rect x="807.9" y="2175.1" width="26.8" height="25.5"/>
<rect x="845" y="2202.7" width="59.8" height="39.1"/>
<rect x="292.8" y="2203.2" width="63.9" height="44.1"/>
<rect x="706.1" y="2219.2" width="53.6" height="26.8"/>
<rect x="807.9" y="2226.6" width="19.4" height="19.4"/>
<rect x="68.2" y="2282.3" width="109.2" height="54.8"/>
<rect x="68.2" y="2364.7" width="112.1" height="55.6"/>
<rect x="275.5" y="2335" width="68.8" height="103.8"/>
<rect x="385.5" y="2343.3" width="29.7" height="96.8"/>
<rect x="419.7" y="2362.6" width="42" height="77.5"/>
<rect x="487.3" y="2347.4" width="123.6" height="92.7"/>
<rect x="610.1" y="2347.4" width="43.3" height="28.4"/>
<rect x="654.6" y="2320.2" width="69.6" height="123.6"/>
<rect x="809.2" y="2284.3" width="111.3" height="49.4"/>
<rect x="809.2" y="2333.8" width="47" height="107.1"/>
<rect x="991.9" y="2061.8" width="90.7" height="30.9"/>
<rect x="1010.4" y="2030.9" width="72.1" height="96.8"/>
<rect x="1012.5" y="2092.7" width="55.6" height="37.1"/>
<rect x="993.9" y="2164.8" width="60.6" height="28.8"/>
<rect x="1017.8" y="2211.4" width="89.4" height="35.9"/>
<rect x="1175.2" y="2212.2" width="30.9" height="28.8"/>
<rect x="1216.5" y="2209.3" width="33" height="37.9"/>
<rect x="1210.3" y="2047.4" width="131.9" height="57.7"/>
<rect x="1393.6" y="2044.5" width="109.2" height="79.1"/>
<rect x="1418.4" y="2123.6" width="84.5" height="35"/>
<rect x="1513.2" y="2042" width="82.4" height="94"/>
<rect x="1471.1" y="2222.5" width="42" height="27.6"/>
<rect x="1515.2" y="2222.5" width="98.1" height="27.6"/>
<rect x="1031" y="2284.3" width="18.5" height="14.4"/>
<rect x="1099" y="2284.3" width="33" height="22.7"/>
<rect x="1212.3" y="2284.3" width="43.3" height="24.7"/>
<rect x="1311.2" y="2288.5" width="30.9" height="30.9"/>
<rect x="1356.6" y="2284.3" width="44.1" height="25.5"/>
<rect x="1408.1" y="2284.3" width="23.5" height="29.7"/>
<rect x="1452.2" y="2284.3" width="21.8" height="30.9"/>
<rect x="983.6" y="2401.8" width="52.7" height="41.2"/>
<rect x="1038.4" y="2395.6" width="42" height="25.5"/>
<rect x="1090.8" y="2383.2" width="36.3" height="35"/>
<rect x="1144.3" y="2387.4" width="46.2" height="30.9"/>
<rect x="1202.9" y="2387.4" width="48.6" height="33"/>
<rect x="1261.8" y="2387.4" width="43.3" height="35"/>
<rect x="1311.2" y="2383.2" width="40" height="39.1"/>
<rect x="1359.4" y="2387.4" width="41.2" height="33"/>
<rect x="1418.4" y="2387.4" width="47.4" height="33"/>
<rect x="1476.1" y="2395.6" width="43.3" height="26.8"/>
<rect x="1575" y="2412.1" width="61.8" height="33"/>
<rect x="1552.3" y="2395.6" width="22.7" height="33"/>
<rect x="1700.6" y="2393.5" width="59.3" height="55.6"/>
<rect x="1712.2" y="2284.3" width="47.8" height="35"/>
<rect x="1728" y="2059.8" width="80.4" height="68"/>
<rect x="1817.4" y="2054.8" width="48.6" height="66.8"/>
<rect x="1880.5" y="2065.1" width="54.8" height="58.5"/>
<rect x="1891.6" y="2123.6" width="43.7" height="75"/>
<rect x="1961.6" y="2052.3" width="91.9" height="58.9"/>
<rect x="2079.1" y="2046.2" width="58.9" height="77.5"/>
<rect x="2164.8" y="2042.9" width="56.5" height="86.9"/>
<rect x="2248.5" y="2049.4" width="45.3" height="61"/>
<rect x="2296.7" y="2048.2" width="40" height="46.6"/>
<rect x="2322.2" y="2101" width="28" height="26"/>
<rect x="1765.1" y="2206.9" width="19.4" height="10.3"/>
<rect x="1761" y="2233.7" width="44.5" height="28.8"/>
<rect x="1809.2" y="2227.9" width="43.7" height="35"/>
<rect x="1943.5" y="2236.1" width="32.6" height="28.4"/>
<rect x="2071.3" y="2232" width="52.3" height="31.7"/>
<rect x="2148.3" y="2237.8" width="47.4" height="26"/>
<rect x="2252.6" y="2230.8" width="26.4" height="26.8"/>
<rect x="2297.9" y="2208.9" width="48.2" height="50.7"/>
<rect x="1712.3" y="2284.3" width="55.6" height="35.9"/>
<rect x="1941.5" y="2286.4" width="22.3" height="27.6"/>
<rect x="2140.1" y="2291.3" width="19.8" height="26"/>
<rect x="2262.5" y="2292.6" width="91.1" height="160.7"/>
<rect x="1701.2" y="2393.5" width="154.5" height="55.6"/>
<rect x="1899" y="2387.4" width="33" height="49.4"/>
<rect x="1989.7" y="2395.6" width="37.1" height="33"/>
<rect x="2032.9" y="2395.6" width="39.1" height="53.6"/>
<rect x="2117.4" y="2389.4" width="37.1" height="30.9"/>
<rect x="2158.6" y="2389.4" width="41.2" height="30.9"/>
<rect x="2439.1" y="2074.2" width="236.9" height="90.7"/>
<rect x="2569" y="2146.3" width="37.1" height="47.4"/>
<rect x="2542.2" y="2164.8" width="16.5" height="14.4"/>
<rect x="2733.8" y="2057.7" width="14.4" height="18.5"/>
<rect x="2768" y="2047.4" width="82" height="68"/>
<rect x="2873.1" y="2037.1" width="57.3" height="76.2"/>
<rect x="2946" y="2033.8" width="51.5" height="39.6"/>
<rect x="3011.9" y="2030.9" width="55.6" height="47.4"/>
<rect x="3160.3" y="2059.8" width="33" height="43.3"/>
<rect x="3205.6" y="2056.5" width="26.8" height="65.1"/>
<rect x="3220" y="2144.2" width="12.4" height="41.2"/>
<rect x="3220" y="2187.5" width="12.4" height="28.8"/>
<rect x="3207.7" y="2241.1" width="24.7" height="26.8"/>
<rect x="2420.6" y="2288.5" width="197.8" height="164.8"/>
<rect x="2768.8" y="2315.2" width="20.6" height="23.9"/>
<rect x="2723.5" y="2346.1" width="22.7" height="84.5"/>
<rect x="2704.9" y="2370.9" width="78.3" height="59.8"/>
<rect x="2788.6" y="2368.8" width="43.3" height="59.8"/>
<rect x="2840.1" y="2385.3" width="33.8" height="35"/>
<rect x="2878" y="2344.1" width="49.4" height="86.5"/>
<rect x="2920" y="2315.2" width="155.8" height="138"/>
<rect x="3136.8" y="2295.9" width="93.5" height="157.4"/>
<polygon points="816.2,953.6 913,953.6 913,998.9 853.3,998.9 853.3,1011.3 913,1011.3 913,1044.2 853.3,1044.2 853.3,1069 913,1069 913,1114.3 816.2,1114.3"/>
<polygon points="336.1,1636.8 364.9,1636.8 373.2,1622.4 389.7,1618.3 406.1,1626.5 449.4,1626.5 449.4,1754.3 432.9,1754.3 432.9,1809.9 447.4,1809.9 447.4,1836.7 329.9,1836.7 329.9,1812 346.4,1812 346.4,1754.3 336.1,1754.3"/>
<polygon points="612.2,1614.2 683.1,1614.2 683.1,1737.8 711.1,1737.8 711.1,1706.9 878,1706.9 878,1828.5 828.5,1828.5 828.5,1824.3 612.2,1824.3"/>
</g>
<g fill="#e4e2de" stroke="#d0cfcd" stroke-width="2.7" stroke-linejoin="miter">
<rect x="76.5" y="378.2" width="43.3" height="47.4"/>
<rect x="70.3" y="557.5" width="55.6" height="41.2"/>
<rect x="70.3" y="627.6" width="57.7" height="49.4"/>
<rect x="70.3" y="714.1" width="47.4" height="41.2"/>
<rect x="70.3" y="800.6" width="47.4" height="39.1"/>
<rect x="327.9" y="386.5" width="47.4" height="45.3"/>
<rect x="393.8" y="384.4" width="16.5" height="20.6"/>
<rect x="459.7" y="378.2" width="33" height="49.4"/>
<rect x="500.9" y="378.2" width="28.8" height="51.5"/>
<rect x="542.1" y="386.5" width="33" height="43.3"/>
<rect x="587.5" y="378.2" width="30.9" height="51.5"/>
<rect x="632.8" y="378.2" width="30.9" height="51.5"/>
<rect x="678.1" y="378.2" width="30.9" height="53.6"/>
<rect x="727.6" y="378.2" width="70.1" height="47.4"/>
<rect x="612.2" y="553.4" width="10.3" height="41.2"/>
<rect x="634.9" y="551.3" width="35" height="57.7"/>
<rect x="682.2" y="553.4" width="35" height="55.6"/>
<rect x="721.4" y="555.4" width="30.9" height="49.4"/>
<rect x="764.7" y="555.4" width="37.1" height="59.8"/>
<rect x="807.9" y="561.6" width="33" height="57.7"/>
<rect x="863.6" y="561.6" width="43.3" height="53.6"/>
<rect x="649.3" y="662.6" width="24.7" height="26.8"/>
<rect x="694.6" y="668.8" width="24.7" height="24.7"/>
<rect x="735.8" y="664.6" width="26.8" height="24.7"/>
<rect x="820.3" y="660.5" width="28.8" height="28.8"/>
<rect x="853.3" y="662.6" width="30.9" height="28.8"/>
<rect x="323.7" y="718.2" width="55.6" height="33"/>
<rect x="395.8" y="716.1" width="18.5" height="26.8"/>
<rect x="424.7" y="724.4" width="33" height="28.8"/>
<rect x="457.7" y="716.1" width="24.7" height="30.9"/>
<rect x="500.9" y="736.8" width="12.4" height="10.3"/>
<rect x="634.9" y="726.5" width="14.4" height="14.4"/>
<rect x="694.6" y="718.2" width="28.8" height="24.7"/>
<rect x="737.9" y="718.2" width="24.7" height="24.7"/>
<rect x="766.7" y="718.2" width="35" height="24.7"/>
<rect x="814.1" y="732.6" width="94.8" height="49.4"/>
<rect x="391.7" y="794.4" width="22.7" height="24.7"/>
<rect x="418.5" y="786.2" width="37.1" height="65.9"/>
<rect x="461.8" y="802.7" width="37.1" height="47.4"/>
<rect x="511.2" y="775.9" width="35" height="74.2"/>
<rect x="548.3" y="784.1" width="41.2" height="72.1"/>
<rect x="593.6" y="808.9" width="26.8" height="43.3"/>
<rect x="634.9" y="798.6" width="39.1" height="55.6"/>
<rect x="680.2" y="796.5" width="28.8" height="57.7"/>
<rect x="719.3" y="784.1" width="37.1" height="72.1"/>
<rect x="764.7" y="784.1" width="35" height="70.1"/>
<rect x="814.1" y="813" width="92.7" height="49.4"/>
<rect x="321.7" y="823.3" width="61.8" height="35"/>
<rect x="805.9" y="786.2" width="12.4" height="10.3"/>
<rect x="1002.2" y="557.5" width="88.6" height="63.9"/>
<rect x="996" y="621.4" width="121.6" height="74.2"/>
<rect x="1123.7" y="557.5" width="41.2" height="59.8"/>
<rect x="1175.2" y="565.7" width="39.1" height="51.5"/>
<rect x="1221.8" y="555.4" width="31.7" height="49.4"/>
<rect x="1267.1" y="553.4" width="37.9" height="76.2"/>
<rect x="1310.4" y="563.7" width="35.9" height="55.6"/>
<rect x="1349.6" y="555.4" width="35.9" height="57.7"/>
<rect x="1394.9" y="556.3" width="35.9" height="54.8"/>
<rect x="1439" y="557.5" width="30.9" height="63.9"/>
<rect x="1489.7" y="555.4" width="43.3" height="98.9"/>
<rect x="1568" y="557.5" width="51.5" height="70.1"/>
<rect x="1122.9" y="658.5" width="25.5" height="26.8"/>
<rect x="1148.5" y="660.5" width="20.6" height="26"/>
<rect x="1192.1" y="657.2" width="27.2" height="32.1"/>
<rect x="1223.5" y="664.6" width="21" height="26.8"/>
<rect x="1264.7" y="666.7" width="28" height="24.7"/>
<rect x="1331.8" y="674.1" width="13.6" height="9.9"/>
<rect x="1351.2" y="659.3" width="30.1" height="33"/>
<rect x="1395.7" y="663.4" width="22.7" height="26"/>
<rect x="1439" y="666.7" width="26" height="23.9"/>
<rect x="1481.4" y="660.1" width="29.7" height="28"/>
<rect x="1526.7" y="658.5" width="30.9" height="30.9"/>
<rect x="1560.5" y="659.7" width="35" height="30.5"/>
<rect x="989.8" y="736.8" width="47.4" height="45.3"/>
<rect x="998" y="726.5" width="30.9" height="10.3"/>
<rect x="1029" y="719.4" width="14.4" height="46.2"/>
<rect x="1045.4" y="720.3" width="24.7" height="24.7"/>
<rect x="1090.8" y="716.1" width="39.1" height="30.9"/>
<rect x="1134" y="724.4" width="30.9" height="25.5"/>
<rect x="1178.1" y="724.4" width="24.7" height="30.9"/>
<rect x="1220.6" y="718.2" width="16.5" height="22.7"/>
<rect x="1263.8" y="722.3" width="24.7" height="26"/>
<rect x="1318.2" y="722.3" width="31.3" height="30.9"/>
<rect x="1349.6" y="721.5" width="27.6" height="26.8"/>
<rect x="1428.7" y="720.3" width="28.8" height="24.7"/>
<rect x="1459.6" y="718.2" width="47.4" height="34.2"/>
<rect x="1592.7" y="758.2" width="20.6" height="19.8"/>
<rect x="985.7" y="800.6" width="43.3" height="56.5"/>
<rect x="1046.7" y="806.8" width="32.6" height="43.3"/>
<rect x="1083.3" y="802.7" width="40.4" height="57.7"/>
<rect x="1128.7" y="811.8" width="37.9" height="50.7"/>
<rect x="1178.1" y="801.5" width="34.2" height="58.9"/>
<rect x="1214.4" y="796.5" width="41.2" height="54.4"/>
<rect x="1263.8" y="784.1" width="13.2" height="12.4"/>
<rect x="1264.7" y="798.6" width="35.4" height="52.7"/>
<rect x="1305.9" y="798.6" width="37.1" height="52.7"/>
<rect x="1352.4" y="788.3" width="42.4" height="63"/>
<rect x="1401.9" y="785.4" width="51.5" height="64.7"/>
<rect x="1458.3" y="782.9" width="50.7" height="71.3"/>
<rect x="1577.8" y="789.5" width="51.9" height="63.5"/>
<rect x="1709.4" y="378.2" width="44.5" height="70.9"/>
<rect x="1762.2" y="391.4" width="31.7" height="55.6"/>
<rect x="1804.2" y="399.7" width="33.8" height="49.9"/>
<rect x="1844.6" y="394.7" width="37.1" height="56.5"/>
<rect x="1889.5" y="386.5" width="34.2" height="63.9"/>
<rect x="1932.8" y="390.6" width="37.1" height="54.4"/>
<rect x="1978.1" y="400.9" width="32.1" height="45.7"/>
<rect x="2020.6" y="392.7" width="59.8" height="57.7"/>
<rect x="2055.6" y="378.2" width="24.7" height="28.8"/>
<rect x="2091.9" y="385.7" width="55.2" height="66.8"/>
<rect x="2150.4" y="389.4" width="38.3" height="59.8"/>
<rect x="2192.8" y="398.8" width="37.9" height="50.7"/>
<rect x="2247.2" y="402.1" width="45.3" height="47"/>
<rect x="2307" y="378.2" width="35" height="62.6"/>
<rect x="1709.4" y="547.2" width="48.2" height="65.1"/>
<rect x="1767.1" y="561.6" width="30.1" height="42.4"/>
<rect x="1807.1" y="556.3" width="38.3" height="71.3"/>
<rect x="1849.6" y="557.5" width="37.1" height="63.9"/>
<rect x="1892.8" y="559.6" width="41.2" height="68"/>
<rect x="1940.2" y="558.7" width="30.9" height="49.4"/>
<rect x="1981.4" y="558.7" width="37.1" height="44.1"/>
<rect x="2026.8" y="561.6" width="37.1" height="70.1"/>
<rect x="2070" y="557.5" width="34.2" height="64.7"/>
<rect x="2114.5" y="558.7" width="35.9" height="66.8"/>
<rect x="2157" y="557.5" width="38.7" height="57.7"/>
<rect x="2201.1" y="555.4" width="39.1" height="66.8"/>
<rect x="2246.4" y="558.3" width="42" height="52.7"/>
<rect x="2297.5" y="554.2" width="47.8" height="54"/>
<rect x="1725.9" y="667.5" width="37.1" height="28"/>
<rect x="1767.1" y="661.3" width="37.9" height="28"/>
<rect x="1809.6" y="666.7" width="43.3" height="26"/>
<rect x="1871.4" y="667.9" width="23.5" height="26.8"/>
<rect x="1895.7" y="663.4" width="29.3" height="26.8"/>
<rect x="1938.2" y="670.8" width="30.1" height="26.8"/>
<rect x="1982.7" y="664.6" width="29.7" height="27.6"/>
<rect x="2113.3" y="668.8" width="29.7" height="28.8"/>
<rect x="2161.9" y="667.5" width="36.7" height="30.1"/>
<rect x="2198.6" y="666.7" width="20.2" height="28.8"/>
<rect x="2280.2" y="667.5" width="19.8" height="28"/>
<rect x="2300.8" y="635.8" width="46.6" height="53.6"/>
<rect x="1737.1" y="724.4" width="26.8" height="25.5"/>
<rect x="1780.3" y="726.5" width="24.7" height="27.6"/>
<rect x="1809.2" y="725.2" width="37.1" height="30.9"/>
<rect x="1871.4" y="725.6" width="25.5" height="24.3"/>
<rect x="1907.2" y="722.3" width="27.6" height="24.7"/>
<rect x="1937.3" y="725.2" width="29.7" height="30.9"/>
<rect x="1993.8" y="726.5" width="30.9" height="27.6"/>
<rect x="2024.7" y="726.5" width="27.6" height="27.6"/>
<rect x="2070.8" y="726.5" width="47.4" height="33"/>
<rect x="2155.7" y="730.6" width="24.3" height="26.8"/>
<rect x="2211.4" y="730.6" width="30.9" height="22.7"/>
<rect x="2287.2" y="725.2" width="67.2" height="45.3"/>
<rect x="2286.4" y="779.2" width="68" height="46.2"/>
<rect x="2285.5" y="834.4" width="68.8" height="48.6"/>
<rect x="2199" y="784.1" width="9.1" height="12.4"/>
<rect x="1704.5" y="798.6" width="45.3" height="60.6"/>
<rect x="1763" y="801.9" width="38.3" height="57.3"/>
<rect x="1804.2" y="793.2" width="37.9" height="71.3"/>
<rect x="1848.7" y="820" width="35.9" height="42.4"/>
<rect x="1893.7" y="817.1" width="32.1" height="43.3"/>
<rect x="1936.1" y="802.7" width="35" height="68.8"/>
<rect x="1939" y="787" width="14.4" height="15.7"/>
<rect x="1896.1" y="801" width="16.5" height="12.8"/>
<rect x="1980.6" y="806.8" width="35.9" height="57.7"/>
<rect x="2022.6" y="817.1" width="40.4" height="47.4"/>
<rect x="2070" y="797.7" width="43.3" height="65.9"/>
<rect x="2155.7" y="823.3" width="35" height="43.3"/>
<rect x="2204.8" y="809.7" width="34.2" height="54.8"/>
<rect x="2423.8" y="395" width="39.6" height="57.7"/>
<rect x="2474.2" y="391.2" width="37.3" height="61.5"/>
<rect x="2526.2" y="403.5" width="32.3" height="49.2"/>
<rect x="2571.2" y="377.7" width="43.5" height="74.2"/>
<rect x="2653.8" y="420" width="9.6" height="16.2"/>
<rect x="2685.4" y="397.7" width="16.5" height="20.4"/>
<rect x="2701.9" y="384.6" width="36.5" height="73.1"/>
<rect x="2746.2" y="402.7" width="34.6" height="52.7"/>
<rect x="2789.2" y="393.8" width="41.5" height="60.8"/>
<rect x="2833.8" y="396.9" width="38.5" height="59.6"/>
<rect x="2878.8" y="377.7" width="43.5" height="75"/>
<rect x="2925" y="381.5" width="46.2" height="76.2"/>
<rect x="3020" y="398.8" width="45.4" height="58.8"/>
<rect x="2442.3" y="376.9" width="30.8" height="4.6"/>
<rect x="2476.9" y="376.9" width="30.8" height="4.6"/>
<rect x="2532.7" y="376.9" width="36.5" height="8.5"/>
<rect x="2615.4" y="376.9" width="42.3" height="14.2"/>
<rect x="2659.6" y="376.9" width="32.7" height="8.5"/>
<rect x="3153.8" y="376.9" width="34.6" height="14.2"/>
<rect x="2428.8" y="558.5" width="45" height="68.5"/>
<rect x="2483.8" y="559.2" width="36.2" height="67.7"/>
<rect x="2525" y="558.5" width="38.5" height="80"/>
<rect x="2573.1" y="558.5" width="36.5" height="54.6"/>
<rect x="2611.5" y="561.2" width="40.4" height="62.7"/>
<rect x="2701.9" y="564.2" width="36.5" height="57.7"/>
<rect x="2746.2" y="566.9" width="35.8" height="49.2"/>
<rect x="2789.2" y="568.1" width="39.6" height="56.9"/>
<rect x="2832.7" y="559.6" width="37.3" height="68.8"/>
<rect x="2875" y="566.2" width="37.7" height="60"/>
<rect x="2926.2" y="561.5" width="33.5" height="65.4"/>
<rect x="2975" y="548.8" width="25" height="25"/>
<rect x="3001.9" y="547.7" width="56.5" height="34.6"/>
<rect x="2999.2" y="596.2" width="60.4" height="29.6"/>
<rect x="2958.5" y="626.9" width="31.9" height="24.6"/>
<rect x="3000.8" y="634.6" width="60" height="29.6"/>
<rect x="2961.5" y="655.4" width="13.5" height="22.3"/>
<rect x="2999.2" y="673.1" width="63.1" height="31.5"/>
<rect x="2430" y="666.9" width="43.1" height="33.8"/>
<rect x="2482.7" y="663.5" width="39.6" height="36.2"/>
<rect x="2528.1" y="665.4" width="39.2" height="34.2"/>
<rect x="2571.2" y="660.4" width="31.5" height="39.2"/>
<rect x="2623.1" y="676.9" width="26.9" height="22.7"/>
<rect x="2701.9" y="653.8" width="21.9" height="26.9"/>
<rect x="2757.7" y="677.7" width="25" height="18.5"/>
<rect x="2803.1" y="658.5" width="25.8" height="35.8"/>
<rect x="2831.9" y="675" width="26.5" height="21.2"/>
<rect x="2875.8" y="670" width="40.4" height="25"/>
<rect x="2920" y="671.2" width="25.4" height="23.1"/>
<rect x="3140.4" y="578.8" width="80.8" height="110.4"/>
<rect x="2430" y="726.9" width="45" height="30.8"/>
<rect x="2525" y="727.7" width="28.1" height="26.2"/>
<rect x="2571.9" y="725.8" width="25" height="25"/>
<rect x="2615.4" y="726.9" width="41.5" height="27.7"/>
<rect x="2660.4" y="734.6" width="37.7" height="46.2"/>
<rect x="2703.1" y="729.6" width="34.6" height="28.8"/>
<rect x="2757.7" y="730.8" width="26.9" height="25.8"/>
<rect x="2843.5" y="728.8" width="31.5" height="28.8"/>
<rect x="2876.2" y="728.8" width="20" height="24.6"/>
<rect x="2919.2" y="728.8" width="21.9" height="30.8"/>
<rect x="2994.2" y="726.9" width="69.2" height="28.8"/>
<rect x="3003.1" y="767.3" width="59.2" height="28.8"/>
<rect x="3000" y="808.5" width="64.6" height="28.8"/>
<rect x="2998.8" y="850" width="64.6" height="29.6"/>
<rect x="2453.8" y="782.3" width="26.2" height="26.2"/>
<rect x="2446.9" y="817.3" width="33.1" height="50.8"/>
<rect x="2486.5" y="792.3" width="40.4" height="77.7"/>
<rect x="2528.1" y="820.8" width="39.2" height="48.5"/>
<rect x="2571.2" y="789.2" width="41.2" height="80.8"/>
<rect x="2620" y="800" width="33.1" height="70"/>
<rect x="2658.8" y="788.5" width="31.5" height="83.5"/>
<rect x="2698.1" y="821.2" width="38.8" height="47.7"/>
<rect x="2740.4" y="806.5" width="46.2" height="64.6"/>
<rect x="2833.5" y="814.2" width="35" height="55"/>
<rect x="2876.9" y="817.3" width="37.3" height="51.2"/>
<rect x="2920" y="821.2" width="35.8" height="47.7"/>
<rect x="2961.5" y="833.5" width="26.9" height="17.3"/>
<rect x="2970.4" y="852.7" width="25" height="24.2"/>
<rect x="3150" y="716.9" width="38.5" height="23.1"/>
<rect x="3137.7" y="762.3" width="41.2" height="58.5"/>
<rect x="3182.7" y="770.8" width="35.4" height="56.2"/>
<rect x="70.3" y="980.4" width="68.8" height="57.7"/>
<rect x="86.8" y="1054.5" width="55.6" height="44.1"/>
<rect x="94.2" y="1131.6" width="46.2" height="45.3"/>
<rect x="70.3" y="1207" width="68" height="53.6"/>
<rect x="71.5" y="1396.6" width="64.7" height="68"/>
<rect x="70.3" y="1497.5" width="65.9" height="45.3"/>
<rect x="327.9" y="984.5" width="37.1" height="57.7"/>
<rect x="371.1" y="984.5" width="40" height="88.6"/>
<rect x="415.2" y="986.5" width="30.1" height="47.4"/>
<rect x="447.4" y="985.3" width="35" height="59.8"/>
<rect x="490.6" y="985.7" width="45.3" height="63.5"/>
<rect x="547.1" y="982.4" width="40.4" height="73.4"/>
<rect x="590.3" y="981.6" width="40.4" height="77.1"/>
<rect x="636.1" y="990.7" width="37.1" height="40.4"/>
<rect x="680.2" y="975.4" width="33" height="52.3"/>
<rect x="724.3" y="971.3" width="36.3" height="52.3"/>
<rect x="764.7" y="975.4" width="37.1" height="66.8"/>
<rect x="379.4" y="1077.2" width="35.9" height="30.9"/>
<rect x="393" y="1062.8" width="17.3" height="14.4"/>
<rect x="417.7" y="1079.3" width="27.6" height="28.8"/>
<rect x="449.4" y="1079.3" width="33" height="33"/>
<rect x="528.9" y="1097.8" width="17.3" height="12.4"/>
<rect x="608.1" y="1085.4" width="23.9" height="23.9"/>
<rect x="651.3" y="1086.7" width="26" height="25.5"/>
<rect x="678.9" y="1080.1" width="32.1" height="29.3"/>
<rect x="722.6" y="1077.2" width="28.8" height="28.8"/>
<rect x="788.6" y="1078" width="17.3" height="10.7"/>
<rect x="980.3" y="975" width="34.2" height="50.7"/>
<rect x="1019.5" y="974.2" width="32.1" height="51.5"/>
<rect x="1053.7" y="982.4" width="33" height="43.3"/>
<rect x="1089.9" y="975" width="35.9" height="56"/>
<rect x="1129.9" y="976.2" width="35.9" height="65.9"/>
<rect x="1174.4" y="971.3" width="35.9" height="54.4"/>
<rect x="1222.6" y="971.3" width="33" height="55.6"/>
<rect x="1263.8" y="974.2" width="37.1" height="51.5"/>
<rect x="1304.2" y="971.3" width="38.7" height="73.8"/>
<rect x="1349.6" y="975.4" width="34.6" height="62.6"/>
<rect x="1400.7" y="980.4" width="47.8" height="77.1"/>
<rect x="1483.5" y="970.9" width="42" height="68"/>
<rect x="1568" y="974.2" width="43.3" height="68"/>
<rect x="1244.1" y="1054.5" width="14.8" height="7"/>
<rect x="986.9" y="1081.3" width="29.7" height="28.8"/>
<rect x="1019.9" y="1084.6" width="30.5" height="28.4"/>
<rect x="1074.3" y="1080.1" width="11.5" height="11.5"/>
<rect x="1100.2" y="1085.4" width="31.7" height="28"/>
<rect x="1151.3" y="1088.3" width="24.7" height="28"/>
<rect x="1184.3" y="1075.1" width="26.8" height="35"/>
<rect x="1237.9" y="1082.6" width="26.8" height="33.8"/>
<rect x="1323.6" y="1089.6" width="27.6" height="28"/>
<rect x="1369.7" y="1089.6" width="23.1" height="23.9"/>
<rect x="1396.9" y="1087.5" width="56.5" height="30.1"/>
<rect x="1460.8" y="1084.6" width="29.7" height="31.7"/>
<rect x="1526.3" y="1081.3" width="39.1" height="32.1"/>
<rect x="992.7" y="1487.2" width="52.7" height="61.8"/>
<rect x="1730.1" y="984.5" width="56.9" height="78.3"/>
<rect x="1807.5" y="978.3" width="37.9" height="57.7"/>
<rect x="1848.7" y="971.3" width="42" height="54.4"/>
<rect x="1894.9" y="970.1" width="40.4" height="61.8"/>
<rect x="1943.5" y="976.2" width="33.8" height="82.4"/>
<rect x="1981.4" y="977.1" width="33.8" height="65.1"/>
<rect x="2025.9" y="978.3" width="35.9" height="85.7"/>
<rect x="2068" y="984.5" width="45.3" height="84.5"/>
<rect x="2114.1" y="983.2" width="36.3" height="64.3"/>
<rect x="2155.7" y="982.4" width="46.2" height="85.7"/>
<rect x="2201.9" y="1063.6" width="51.5" height="26.8"/>
<rect x="2256.7" y="1080.1" width="96.4" height="44.5"/>
<rect x="1732.9" y="1085.4" width="47.4" height="32.1"/>
<rect x="1822.8" y="1089.6" width="30.1" height="23.9"/>
<rect x="1876.3" y="1088.7" width="20.6" height="27.6"/>
<rect x="1910.1" y="1093.7" width="28.8" height="25.5"/>
<rect x="1944.3" y="1084.6" width="39.1" height="33.8"/>
<rect x="1983.5" y="1092.9" width="31.7" height="26.8"/>
<rect x="2025.5" y="1089.6" width="36.3" height="28"/>
<rect x="2425.4" y="984.1" width="52.8" height="135.7"/>
<rect x="2498.6" y="983.3" width="54" height="136.5"/>
<rect x="2570.1" y="986.8" width="37.2" height="71.6"/>
<rect x="2613.1" y="994.6" width="37.2" height="61"/>
<rect x="2656.2" y="984.1" width="36.4" height="86"/>
<rect x="2701.1" y="984.1" width="34.4" height="56.7"/>
<rect x="2743.4" y="989.9" width="35.2" height="59.4"/>
<rect x="2791.1" y="993.9" width="35.2" height="41.1"/>
<rect x="2832.1" y="986.8" width="36.4" height="57.1"/>
<rect x="2882.2" y="988" width="34" height="57.9"/>
<rect x="2922.1" y="997.8" width="27.4" height="72.4"/>
<rect x="2952.2" y="1005.6" width="45.4" height="60.6"/>
<rect x="3010.1" y="1010.3" width="52.8" height="84.1"/>
<rect x="2994.4" y="1070.1" width="9.8" height="9.8"/>
<rect x="2570.1" y="1092.8" width="27.4" height="27"/>
<rect x="2613.1" y="1108.4" width="23.5" height="14.5"/>
<rect x="2658.1" y="1094.4" width="26.6" height="26.6"/>
<rect x="2720.7" y="1096.7" width="24.2" height="24.2"/>
<rect x="2747.3" y="1090.5" width="28.9" height="32.5"/>
<rect x="2798.9" y="1096.3" width="34.4" height="27.4"/>
<rect x="2836.1" y="1079.9" width="41.8" height="42.2"/>
<rect x="2892.8" y="1092.8" width="26.2" height="27"/>
<rect x="2923.3" y="1095.5" width="27.4" height="25.4"/>
<rect x="2971" y="1096.7" width="37.2" height="26.2"/>
<rect x="3154" y="930.5" width="45" height="88.8"/>
<rect x="3200.9" y="930.5" width="30.9" height="56.3"/>
<rect x="3204.8" y="1068.2" width="22.3" height="21.5"/>
<rect x="3145" y="1090.5" width="32.5" height="68.4"/>
<rect x="3185.3" y="1106.1" width="32.1" height="52"/>
<rect x="3225.2" y="1122.9" width="6.6" height="37.2"/>
<rect x="3164.6" y="1281.3" width="41.1" height="71.2"/>
<rect x="3207.6" y="1279.4" width="24.2" height="65.7"/>
<rect x="3180.2" y="1357.6" width="24.2" height="29.3"/>
<rect x="3205.6" y="1358.3" width="19.6" height="29.7"/>
<rect x="3164.6" y="1416.2" width="33.2" height="29.3"/>
<rect x="3204.5" y="1414.3" width="27.4" height="27.4"/>
<rect x="3143.1" y="1465.1" width="56.7" height="58.7"/>
<rect x="3204.5" y="1471" width="27.4" height="48.9"/>
<rect x="70.3" y="1709" width="55.6" height="57.7"/>
<rect x="461.8" y="1669.8" width="34.2" height="107.1"/>
<rect x="470" y="1770.8" width="94.8" height="46.2"/>
<rect x="92.1" y="2089.3" width="72.9" height="61.4"/>
<rect x="1106.4" y="1568" width="47" height="34.6"/>
<rect x="1184.7" y="1568" width="40.8" height="33"/>
<rect x="1290.6" y="1579.1" width="56.9" height="43.3"/>
<rect x="1352.4" y="1572.1" width="54.8" height="75.8"/>
<rect x="1543.2" y="1570.9" width="63.5" height="45.3"/>
<rect x="1018.7" y="1598.5" width="31.7" height="30.1"/>
<rect x="993.9" y="1629.8" width="70.1" height="147.1"/>
<rect x="1020.7" y="1774.9" width="52.7" height="37.1"/>
<rect x="1066" y="1643" width="14.4" height="14.4"/>
<rect x="1091.6" y="1746" width="78.3" height="80.4"/>
<rect x="1129.9" y="1727.5" width="40" height="18.5"/>
<rect x="1187.6" y="1762.5" width="71.3" height="51.5"/>
<rect x="1220.6" y="1747.3" width="22.7" height="15.2"/>
<rect x="1267.1" y="1750.2" width="63.5" height="76.2"/>
<rect x="1297.6" y="1715.1" width="23.1" height="17.7"/>
<rect x="1350.4" y="1733.7" width="74.2" height="96.8"/>
<rect x="1377.2" y="1716.4" width="26.8" height="17.3"/>
<rect x="1487.2" y="1616.2" width="51.9" height="110"/>
<rect x="1556.4" y="1700.7" width="57.7" height="101"/>
<rect x="1705.3" y="1587.4" width="58.9" height="46.6"/>
<rect x="1842.6" y="1579.1" width="65.9" height="28.8"/>
<rect x="1969.9" y="1579.1" width="94.8" height="35"/>
<rect x="2094.7" y="1579.1" width="51.5" height="33"/>
<rect x="2149.6" y="1579.1" width="27.6" height="33"/>
<rect x="2204.8" y="1594.8" width="16.9" height="25.5"/>
<rect x="2256.3" y="1579.1" width="21.8" height="23.5"/>
<rect x="2297.9" y="1582" width="37.9" height="42.4"/>
<rect x="2203.1" y="1632.7" width="55.6" height="30.9"/>
<rect x="2232.8" y="1663.6" width="26" height="20.6"/>
<rect x="1738.3" y="1695.4" width="55.6" height="91.9"/>
<rect x="1837.2" y="1709.8" width="70.1" height="78.7"/>
<rect x="1983.5" y="1715.1" width="64.7" height="87.4"/>
<rect x="2081.6" y="1707.7" width="58.5" height="89.8"/>
<rect x="2155.7" y="1713.9" width="43.3" height="85.7"/>
<rect x="2223.7" y="1706.1" width="74.2" height="94.8"/>
<rect x="3161.8" y="1710.1" width="70" height="123.2"/>
<rect x="88" y="2224.6" width="45.3" height="27.6"/>
<rect x="282.5" y="2041.2" width="47.4" height="53.6"/>
<rect x="343.1" y="2043.3" width="47.4" height="39.1"/>
<rect x="422.6" y="2026.8" width="58.9" height="74.2"/>
<rect x="555.7" y="2028" width="39.1" height="52.3"/>
<rect x="614.3" y="2026.8" width="53.6" height="47.4"/>
<rect x="649.3" y="2074.2" width="26.8" height="26.8"/>
<rect x="681.4" y="2033" width="60.6" height="44.1"/>
<rect x="809.2" y="2032.1" width="48.2" height="66.8"/>
<rect x="859.4" y="2033" width="47.4" height="89.4"/>
<rect x="292.8" y="2138" width="35.9" height="50.3"/>
<rect x="401.2" y="2125.7" width="37.1" height="34.2"/>
<rect x="368.2" y="2178.4" width="26.4" height="27.6"/>
<rect x="552.4" y="2175.1" width="28.8" height="31.7"/>
<rect x="809.2" y="2120.7" width="23.5" height="26.4"/>
<rect x="845" y="2149.6" width="57.7" height="40"/>
<rect x="807.9" y="2175.1" width="26.8" height="25.5"/>
<rect x="845" y="2202.7" width="59.8" height="39.1"/>
<rect x="292.8" y="2203.2" width="63.9" height="44.1"/>
<rect x="706.1" y="2219.2" width="53.6" height="26.8"/>
<rect x="807.9" y="2226.6" width="19.4" height="19.4"/>
<rect x="68.2" y="2282.3" width="109.2" height="54.8"/>
<rect x="68.2" y="2364.7" width="112.1" height="55.6"/>
<rect x="275.5" y="2335" width="68.8" height="103.8"/>
<rect x="385.5" y="2343.3" width="29.7" height="96.8"/>
<rect x="419.7" y="2362.6" width="42" height="77.5"/>
<rect x="487.3" y="2347.4" width="123.6" height="92.7"/>
<rect x="610.1" y="2347.4" width="43.3" height="28.4"/>
<rect x="654.6" y="2320.2" width="69.6" height="123.6"/>
<rect x="809.2" y="2284.3" width="111.3" height="49.4"/>
<rect x="809.2" y="2333.8" width="47" height="107.1"/>
<rect x="991.9" y="2061.8" width="90.7" height="30.9"/>
<rect x="1010.4" y="2030.9" width="72.1" height="96.8"/>
<rect x="1012.5" y="2092.7" width="55.6" height="37.1"/>
<rect x="993.9" y="2164.8" width="60.6" height="28.8"/>
<rect x="1017.8" y="2211.4" width="89.4" height="35.9"/>
<rect x="1175.2" y="2212.2" width="30.9" height="28.8"/>
<rect x="1216.5" y="2209.3" width="33" height="37.9"/>
<rect x="1210.3" y="2047.4" width="131.9" height="57.7"/>
<rect x="1393.6" y="2044.5" width="109.2" height="79.1"/>
<rect x="1418.4" y="2123.6" width="84.5" height="35"/>
<rect x="1513.2" y="2042" width="82.4" height="94"/>
<rect x="1471.1" y="2222.5" width="42" height="27.6"/>
<rect x="1515.2" y="2222.5" width="98.1" height="27.6"/>
<rect x="1031" y="2284.3" width="18.5" height="14.4"/>
<rect x="1099" y="2284.3" width="33" height="22.7"/>
<rect x="1212.3" y="2284.3" width="43.3" height="24.7"/>
<rect x="1311.2" y="2288.5" width="30.9" height="30.9"/>
<rect x="1356.6" y="2284.3" width="44.1" height="25.5"/>
<rect x="1408.1" y="2284.3" width="23.5" height="29.7"/>
<rect x="1452.2" y="2284.3" width="21.8" height="30.9"/>
<rect x="983.6" y="2401.8" width="52.7" height="41.2"/>
<rect x="1038.4" y="2395.6" width="42" height="25.5"/>
<rect x="1090.8" y="2383.2" width="36.3" height="35"/>
<rect x="1144.3" y="2387.4" width="46.2" height="30.9"/>
<rect x="1202.9" y="2387.4" width="48.6" height="33"/>
<rect x="1261.8" y="2387.4" width="43.3" height="35"/>
<rect x="1311.2" y="2383.2" width="40" height="39.1"/>
<rect x="1359.4" y="2387.4" width="41.2" height="33"/>
<rect x="1418.4" y="2387.4" width="47.4" height="33"/>
<rect x="1476.1" y="2395.6" width="43.3" height="26.8"/>
<rect x="1575" y="2412.1" width="61.8" height="33"/>
<rect x="1552.3" y="2395.6" width="22.7" height="33"/>
<rect x="1700.6" y="2393.5" width="59.3" height="55.6"/>
<rect x="1712.2" y="2284.3" width="47.8" height="35"/>
<rect x="1728" y="2059.8" width="80.4" height="68"/>
<rect x="1817.4" y="2054.8" width="48.6" height="66.8"/>
<rect x="1880.5" y="2065.1" width="54.8" height="58.5"/>
<rect x="1891.6" y="2123.6" width="43.7" height="75"/>
<rect x="1961.6" y="2052.3" width="91.9" height="58.9"/>
<rect x="2079.1" y="2046.2" width="58.9" height="77.5"/>
<rect x="2164.8" y="2042.9" width="56.5" height="86.9"/>
<rect x="2248.5" y="2049.4" width="45.3" height="61"/>
<rect x="2296.7" y="2048.2" width="40" height="46.6"/>
<rect x="2322.2" y="2101" width="28" height="26"/>
<rect x="1765.1" y="2206.9" width="19.4" height="10.3"/>
<rect x="1761" y="2233.7" width="44.5" height="28.8"/>
<rect x="1809.2" y="2227.9" width="43.7" height="35"/>
<rect x="1943.5" y="2236.1" width="32.6" height="28.4"/>
<rect x="2071.3" y="2232" width="52.3" height="31.7"/>
<rect x="2148.3" y="2237.8" width="47.4" height="26"/>
<rect x="2252.6" y="2230.8" width="26.4" height="26.8"/>
<rect x="2297.9" y="2208.9" width="48.2" height="50.7"/>
<rect x="1712.3" y="2284.3" width="55.6" height="35.9"/>
<rect x="1941.5" y="2286.4" width="22.3" height="27.6"/>
<rect x="2140.1" y="2291.3" width="19.8" height="26"/>
<rect x="2262.5" y="2292.6" width="91.1" height="160.7"/>
<rect x="1701.2" y="2393.5" width="154.5" height="55.6"/>
<rect x="1899" y="2387.4" width="33" height="49.4"/>
<rect x="1989.7" y="2395.6" width="37.1" height="33"/>
<rect x="2032.9" y="2395.6" width="39.1" height="53.6"/>
<rect x="2117.4" y="2389.4" width="37.1" height="30.9"/>
<rect x="2158.6" y="2389.4" width="41.2" height="30.9"/>
<rect x="2439.1" y="2074.2" width="236.9" height="90.7"/>
<rect x="2569" y="2146.3" width="37.1" height="47.4"/>
<rect x="2542.2" y="2164.8" width="16.5" height="14.4"/>
<rect x="2733.8" y="2057.7" width="14.4" height="18.5"/>
<rect x="2768" y="2047.4" width="82" height="68"/>
<rect x="2873.1" y="2037.1" width="57.3" height="76.2"/>
<rect x="2946" y="2033.8" width="51.5" height="39.6"/>
<rect x="3011.9" y="2030.9" width="55.6" height="47.4"/>
<rect x="3160.3" y="2059.8" width="33" height="43.3"/>
<rect x="3205.6" y="2056.5" width="26.8" height="65.1"/>
<rect x="3220" y="2144.2" width="12.4" height="41.2"/>
<rect x="3220" y="2187.5" width="12.4" height="28.8"/>
<rect x="3207.7" y="2241.1" width="24.7" height="26.8"/>
<rect x="2420.6" y="2288.5" width="197.8" height="164.8"/>
<rect x="2768.8" y="2315.2" width="20.6" height="23.9"/>
<rect x="2723.5" y="2346.1" width="22.7" height="84.5"/>
<rect x="2704.9" y="2370.9" width="78.3" height="59.8"/>
<rect x="2788.6" y="2368.8" width="43.3" height="59.8"/>
<rect x="2840.1" y="2385.3" width="33.8" height="35"/>
<rect x="2878" y="2344.1" width="49.4" height="86.5"/>
<rect x="2920" y="2315.2" width="155.8" height="138"/>
<rect x="3136.8" y="2295.9" width="93.5" height="157.4"/>
<polygon points="816.2,953.6 913,953.6 913,998.9 853.3,998.9 853.3,1011.3 913,1011.3 913,1044.2 853.3,1044.2 853.3,1069 913,1069 913,1114.3 816.2,1114.3"/>
<polygon points="336.1,1636.8 364.9,1636.8 373.2,1622.4 389.7,1618.3 406.1,1626.5 449.4,1626.5 449.4,1754.3 432.9,1754.3 432.9,1809.9 447.4,1809.9 447.4,1836.7 329.9,1836.7 329.9,1812 346.4,1812 346.4,1754.3 336.1,1754.3"/>
<polygon points="612.2,1614.2 683.1,1614.2 683.1,1737.8 711.1,1737.8 711.1,1706.9 878,1706.9 878,1828.5 828.5,1828.5 828.5,1824.3 612.2,1824.3"/>
</g>
<polyline points="1478,368 1482.3,394.7 1495,406 1519.3,411.2 1544,405 1556,394 1560.5,368" fill="none" stroke="#fff" stroke-width="4.5" stroke-linejoin="round"/>
<polyline points="503,1572 505.5,1707" fill="none" stroke="#d9d9d9" stroke-width="7.6" stroke-linejoin="round"/><polyline points="503,1572 505.5,1707" fill="none" stroke="#fff" stroke-width="5" stroke-linejoin="round"/>
<polyline points="571.5,1572 567.5,1707" fill="none" stroke="#d9d9d9" stroke-width="7.6" stroke-linejoin="round"/><polyline points="571.5,1572 567.5,1707" fill="none" stroke="#fff" stroke-width="5" stroke-linejoin="round"/>
<polyline points="143,1556.5 143,1650 138,1659 128,1663.6 60,1663.6" fill="none" stroke="#d9d9d9" stroke-width="7.6" stroke-linejoin="round"/><polyline points="143,1556.5 143,1650 138,1659 128,1663.6 60,1663.6" fill="none" stroke="#fff" stroke-width="5" stroke-linejoin="round"/>
<polyline points="60,1603 143,1603" fill="none" stroke="#d9d9d9" stroke-width="7.6" stroke-linejoin="round"/><polyline points="60,1603 143,1603" fill="none" stroke="#fff" stroke-width="5" stroke-linejoin="round"/>
<polyline points="1206,2083 1165,2084 1159,2247" fill="none" stroke="#d9d9d9" stroke-width="7.6" stroke-linejoin="round"/><polyline points="1206,2083 1165,2084 1159,2247" fill="none" stroke="#fff" stroke-width="5" stroke-linejoin="round"/>
<polyline points="1164,2194 1206,2196" fill="none" stroke="#d9d9d9" stroke-width="7.6" stroke-linejoin="round"/><polyline points="1164,2194 1206,2196" fill="none" stroke="#fff" stroke-width="5" stroke-linejoin="round"/>
<polyline points="1867.5,2274 1867.5,2460" fill="none" stroke="#d9d9d9" stroke-width="8.1" stroke-linejoin="round"/><polyline points="1867.5,2274 1867.5,2460" fill="none" stroke="#fff" stroke-width="5.5" stroke-linejoin="round"/>
<polyline points="1549,2288 1549,2460" fill="none" stroke="#d9d9d9" stroke-width="7.6" stroke-linejoin="round"/><polyline points="1549,2288 1549,2460" fill="none" stroke="#fff" stroke-width="5" stroke-linejoin="round"/>
<polyline points="1504,2288 1503,2317" fill="none" stroke="#d9d9d9" stroke-width="7.6" stroke-linejoin="round"/><polyline points="1504,2288 1503,2317" fill="none" stroke="#fff" stroke-width="5" stroke-linejoin="round"/>
<polyline points="1603,2288 1601,2330" fill="none" stroke="#d9d9d9" stroke-width="7.6" stroke-linejoin="round"/><polyline points="1603,2288 1601,2330" fill="none" stroke="#fff" stroke-width="5" stroke-linejoin="round"/>
<polyline points="883,2387 883,2460" fill="none" stroke="#d9d9d9" stroke-width="7.6" stroke-linejoin="round"/><polyline points="883,2387 883,2460" fill="none" stroke="#fff" stroke-width="5" stroke-linejoin="round"/>
<polyline points="2660.5,2315 2660.5,2460" fill="none" stroke="#d9d9d9" stroke-width="7.6" stroke-linejoin="round"/><polyline points="2660.5,2315 2660.5,2460" fill="none" stroke="#fff" stroke-width="5" stroke-linejoin="round"/>
<rect x="2694.6" y="2315" width="38.4" height="18" fill="#fff" stroke="#d9d9d9" stroke-width="2"/>
<line x1="1703" y1="1126.3" x2="2369" y2="1125.3" stroke="#fff" stroke-width="5" stroke-dasharray="13 16"/>
<text x="920" y="621.4" font-size="30" fill="#5c5c5c" font-family="'Liberation Sans', Arial, sans-serif" textLength="259.4" lengthAdjust="spacing" stroke="#fff" stroke-width="5" stroke-linejoin="round" paint-order="stroke">Paul-Reformation</text>
<text x="983.9" y="658.5" font-size="30" fill="#5c5c5c" font-family="'Liberation Sans', Arial, sans-serif" textLength="130.8" lengthAdjust="spacing" stroke="#fff" stroke-width="5" stroke-linejoin="round" paint-order="stroke">Lutheran</text>
<text x="996" y="695.5" font-size="30" fill="#5c5c5c" font-family="'Liberation Sans', Arial, sans-serif" textLength="107" lengthAdjust="spacing" stroke="#fff" stroke-width="5" stroke-linejoin="round" paint-order="stroke">Church</text>
<text x="2937" y="1058.4" font-size="30" fill="#5c5c5c" font-family="'Liberation Sans', Arial, sans-serif" textLength="168" lengthAdjust="spacing" stroke="#fff" stroke-width="5" stroke-linejoin="round" paint-order="stroke">Fire Station</text>
<text x="306.2" y="1697.8" font-size="30" fill="#5c5c5c" font-family="'Liberation Sans', Arial, sans-serif" textLength="169.2" lengthAdjust="spacing" stroke="#fff" stroke-width="5" stroke-linejoin="round" paint-order="stroke">St. Thomas</text>
<text x="287.7" y="1735" font-size="30" fill="#5c5c5c" font-family="'Liberation Sans', Arial, sans-serif" textLength="207" lengthAdjust="spacing" stroke="#fff" stroke-width="5" stroke-linejoin="round" paint-order="stroke">More Catholic</text>
<text x="338" y="1772" font-size="30" fill="#5c5c5c" font-family="'Liberation Sans', Arial, sans-serif" textLength="106" lengthAdjust="spacing" stroke="#fff" stroke-width="5" stroke-linejoin="round" paint-order="stroke">Church</text>
<text x="659.8" y="1732" font-size="30" fill="#5c5c5c" font-family="'Liberation Sans', Arial, sans-serif" textLength="169.2" lengthAdjust="spacing" stroke="#fff" stroke-width="5" stroke-linejoin="round" paint-order="stroke">St. Thomas</text>
<text x="641.3" y="1768.7" font-size="30" fill="#5c5c5c" font-family="'Liberation Sans', Arial, sans-serif" textLength="207" lengthAdjust="spacing" stroke="#fff" stroke-width="5" stroke-linejoin="round" paint-order="stroke">More Catholic</text>
<text x="693.6" y="1805.8" font-size="30" fill="#5c5c5c" font-family="'Liberation Sans', Arial, sans-serif" textLength="102" lengthAdjust="spacing" stroke="#fff" stroke-width="5" stroke-linejoin="round" paint-order="stroke">School</text>
<text x="1196.9" y="2046.9" font-size="30" fill="#5c5c5c" font-family="'Liberation Sans', Arial, sans-serif" textLength="154.3" lengthAdjust="spacing" stroke="#fff" stroke-width="5" stroke-linejoin="round" paint-order="stroke">Minnesota</text>
<text x="1192.8" y="2084" font-size="30" fill="#5c5c5c" font-family="'Liberation Sans', Arial, sans-serif" textLength="161.7" lengthAdjust="spacing" stroke="#fff" stroke-width="5" stroke-linejoin="round" paint-order="stroke">Governor&#39;s</text>
<text x="1196" y="2121" font-size="30" fill="#5c5c5c" font-family="'Liberation Sans', Arial, sans-serif" textLength="156.4" lengthAdjust="spacing" stroke="#fff" stroke-width="5" stroke-linejoin="round" paint-order="stroke">Residence</text>
<text x="2447.9" y="2097.3" font-size="30" fill="#5c5c5c" font-family="'Liberation Sans', Arial, sans-serif" textLength="221.9" lengthAdjust="spacing" stroke="#fff" stroke-width="5" stroke-linejoin="round" paint-order="stroke">St. Paul United</text>
<text x="2440" y="2134.5" font-size="30" fill="#5c5c5c" font-family="'Liberation Sans', Arial, sans-serif" textLength="260" lengthAdjust="spacing" stroke="#fff" stroke-width="5" stroke-linejoin="round" paint-order="stroke">Church of Christ</text>
<text x="216.8" y="2374" font-size="30" fill="#5c5c5c" font-family="'Liberation Sans', Arial, sans-serif" textLength="184.2" lengthAdjust="spacing" stroke="#fff" stroke-width="5" stroke-linejoin="round" paint-order="stroke">St. Paul Eye</text>
<text x="268" y="2412" font-size="30" fill="#5c5c5c" font-family="'Liberation Sans', Arial, sans-serif" textLength="82.5" lengthAdjust="spacing" stroke="#fff" stroke-width="5" stroke-linejoin="round" paint-order="stroke">Clinic</text>
<text x="475" y="2400" font-size="30" fill="#5c5c5c" font-family="'Liberation Sans', Arial, sans-serif" textLength="147.5" lengthAdjust="spacing" stroke="#fff" stroke-width="5" stroke-linejoin="round" paint-order="stroke">U.S. Bank</text>
<text x="755.4" y="2317.3" font-size="30" fill="#5c5c5c" font-family="'Liberation Sans', Arial, sans-serif" textLength="216.6" lengthAdjust="spacing" stroke="#fff" stroke-width="5" stroke-linejoin="round" paint-order="stroke">Oxford Square</text>
<text x="961" y="2408.8" font-size="30" fill="#5c5c5c" font-family="'Liberation Sans', Arial, sans-serif" textLength="94.7" lengthAdjust="spacing" stroke="#fff" stroke-width="5" stroke-linejoin="round" paint-order="stroke">Chase</text>
<text x="1489.5" y="2420" font-size="30" fill="#5c5c5c" font-family="'Liberation Sans', Arial, sans-serif" textLength="229.5" lengthAdjust="spacing" stroke="#fff" stroke-width="5" stroke-linejoin="round" paint-order="stroke">Bank Cherokee</text>
<text x="1937" y="2418" font-size="30" fill="#5c5c5c" font-family="'Liberation Sans', Arial, sans-serif" textLength="141" lengthAdjust="spacing" stroke="#fff" stroke-width="5" stroke-linejoin="round" paint-order="stroke">Attorneys</text>
<text x="2211" y="2412" font-size="30" fill="#5c5c5c" font-family="'Liberation Sans', Arial, sans-serif" textLength="153.7" lengthAdjust="spacing" stroke="#fff" stroke-width="5" stroke-linejoin="round" paint-order="stroke">Speedway</text>
<text x="2636" y="2381" font-size="30" fill="#5c5c5c" font-family="'Liberation Sans', Arial, sans-serif" textLength="180" lengthAdjust="spacing" stroke="#fff" stroke-width="5" stroke-linejoin="round" paint-order="stroke">Red Balloon</text>
<text x="2652" y="2418" font-size="30" fill="#5c5c5c" font-family="'Liberation Sans', Arial, sans-serif" textLength="148" lengthAdjust="spacing" stroke="#fff" stroke-width="5" stroke-linejoin="round" paint-order="stroke">Bookshop</text>
<text x="1049.6" y="584.3" font-size="30" fill="#5c5c5c" font-family="'Liberation Sans', Arial, sans-serif" text-anchor="middle" stroke="#fff" stroke-width="5" stroke-linejoin="round" paint-order="stroke">St.</text>
<text x="69.5" y="1707" font-size="30" fill="#5c5c5c" font-family="'Liberation Sans', Arial, sans-serif" textLength="66.5" lengthAdjust="spacing" stroke="#fff" stroke-width="5" stroke-linejoin="round" paint-order="stroke">orge</text>
<text x="69" y="1744" font-size="30" fill="#5c5c5c" font-family="'Liberation Sans', Arial, sans-serif" textLength="105.6" lengthAdjust="spacing" stroke="#fff" stroke-width="5" stroke-linejoin="round" paint-order="stroke">rthodox</text>
<text x="69" y="1781" font-size="30" fill="#5c5c5c" font-family="'Liberation Sans', Arial, sans-serif" textLength="40.4" lengthAdjust="spacing" stroke="#fff" stroke-width="5" stroke-linejoin="round" paint-order="stroke">rch</text>
<text x="68" y="2356.5" font-size="30" fill="#5c5c5c" font-family="'Liberation Sans', Arial, sans-serif" textLength="33" lengthAdjust="spacing" stroke="#fff" stroke-width="5" stroke-linejoin="round" paint-order="stroke">nd</text>
<text x="67" y="2395.6" font-size="30" fill="#5c5c5c" font-family="'Liberation Sans', Arial, sans-serif" textLength="42.4" lengthAdjust="spacing" stroke="#fff" stroke-width="5" stroke-linejoin="round" paint-order="stroke">ctic</text>
<text x="3152" y="1788" font-size="30" fill="#5c5c5c" font-family="'Liberation Sans', Arial, sans-serif" stroke="#fff" stroke-width="5" stroke-linejoin="round" paint-order="stroke" letter-spacing="1.5">Summit</text>
<text x="2990" y="1232" font-size="30" fill="#5c5c5c" font-family="'Liberation Sans', Arial, sans-serif" stroke="#fff" stroke-width="5" stroke-linejoin="round" paint-order="stroke" letter-spacing="1.5">Church</text>
<text x="639.1" y="497.4" font-size="35.5" fill="#1e1e1e" font-family="'Liberation Sans', Arial, sans-serif" textLength="200.6" lengthAdjust="spacing" stroke="#fff" stroke-width="3" stroke-linejoin="round" paint-order="stroke">Laurel Ave</text>
<text x="2188.5" y="522.5" font-size="35.5" fill="#1e1e1e" font-family="'Liberation Sans', Arial, sans-serif" textLength="202.9" lengthAdjust="spacing" stroke="#fff" stroke-width="3" stroke-linejoin="round" paint-order="stroke">Laurel Ave</text>
<text x="778" y="925" font-size="35.5" fill="#1e1e1e" font-family="'Liberation Sans', Arial, sans-serif" textLength="237.8" lengthAdjust="spacing" stroke="#fff" stroke-width="3" stroke-linejoin="round" paint-order="stroke">Ashland Ave</text>
<text x="2170" y="940.7" font-size="35.5" fill="#1e1e1e" font-family="'Liberation Sans', Arial, sans-serif" textLength="238" lengthAdjust="spacing" stroke="#fff" stroke-width="3" stroke-linejoin="round" paint-order="stroke">Ashland Ave</text>
<text x="615.3" y="1342" font-size="35.5" fill="#1e1e1e" font-family="'Liberation Sans', Arial, sans-serif" textLength="244.1" lengthAdjust="spacing" stroke="#fff" stroke-width="3" stroke-linejoin="round" paint-order="stroke">Portland Ave</text>
<text x="2168" y="1351.2" font-size="35.5" fill="#1e1e1e" font-family="'Liberation Sans', Arial, sans-serif" textLength="242" lengthAdjust="spacing" stroke="#fff" stroke-width="3" stroke-linejoin="round" paint-order="stroke">Portland Ave</text>
<text x="617.4" y="1934.8" font-size="35.5" fill="#1e1e1e" font-family="'Liberation Sans', Arial, sans-serif" textLength="231.6" lengthAdjust="spacing" stroke="#fff" stroke-width="3" stroke-linejoin="round" paint-order="stroke">Summit Ave</text>
<text x="2172" y="1948" font-size="35.5" fill="#1e1e1e" font-family="'Liberation Sans', Arial, sans-serif" textLength="232" lengthAdjust="spacing" stroke="#fff" stroke-width="3" stroke-linejoin="round" paint-order="stroke">Summit Ave</text>
<text x="0" y="0" font-size="35.5" fill="#1e1e1e" font-family="'Liberation Sans', Arial, sans-serif" textLength="228.6" lengthAdjust="spacing" stroke="#fff" stroke-width="3" stroke-linejoin="round" paint-order="stroke" transform="translate(42.2,1863.6) rotate(12.44)">Summit Ave</text>
<text x="0" y="0" font-size="35.5" fill="#1e1e1e" font-family="'Liberation Sans', Arial, sans-serif" textLength="342.1" lengthAdjust="spacing" stroke="#fff" stroke-width="3" stroke-linejoin="round" paint-order="stroke" transform="translate(203.7,943.3) rotate(90)">Lexington Pkwy N</text>
<text x="0" y="0" font-size="35.5" fill="#1e1e1e" font-family="'Liberation Sans', Arial, sans-serif" textLength="342.1" lengthAdjust="spacing" stroke="#fff" stroke-width="3" stroke-linejoin="round" paint-order="stroke" transform="translate(249.8,944.4) rotate(90)">Lexington Pkwy N</text>
<text x="0" y="0" font-size="35.5" fill="#1e1e1e" font-family="'Liberation Sans', Arial, sans-serif" textLength="217.3" lengthAdjust="spacing" stroke="#fff" stroke-width="3" stroke-linejoin="round" paint-order="stroke" transform="translate(948.6,1018.5) rotate(90)">Oxford St N</text>
<text x="0" y="0" font-size="35.5" fill="#1e1e1e" font-family="'Liberation Sans', Arial, sans-serif" textLength="306" lengthAdjust="spacing" stroke="#fff" stroke-width="3" stroke-linejoin="round" paint-order="stroke" transform="translate(1661.5,975.2) rotate(90)">Chatsworth St N</text>
<text x="0" y="0" font-size="35.5" fill="#1e1e1e" font-family="'Liberation Sans', Arial, sans-serif" textLength="205" lengthAdjust="spacing" stroke="#fff" stroke-width="3" stroke-linejoin="round" paint-order="stroke" transform="translate(2377,1026.7) rotate(90)">Milton St N</text>
<text x="0" y="0" font-size="35.5" fill="#1e1e1e" font-family="'Liberation Sans', Arial, sans-serif" textLength="237.5" lengthAdjust="spacing" stroke="#fff" stroke-width="3" stroke-linejoin="round" paint-order="stroke" transform="translate(3104,1010.5) rotate(90)">Victoria St N</text>
<g stroke="#6e6e6e" stroke-width="1.6" stroke-linejoin="miter">
<polygon points="321.7,1132.8 461.8,1133.8 461.8,1298.5 321.7,1298" fill="#e1e1e1"/>
<polygon points="461.8,1179.4 488.6,1179.4 488.6,1134.3 505,1134.5 505,1298.5 461.8,1298.4" fill="#e1e1e1"/>
<polygon points="505,1134.1 549.4,1134.4 549.4,1298.8 505,1298.6" fill="#e1e1e1"/>
<polygon points="549.4,1134.4 614.3,1134.9 614.3,1299 549.4,1298.8" fill="#98e600"/>
<polygon points="614.3,1134.9 679.6,1135.3 679.6,1299.2 614.3,1299" fill="#e1e1e1"/>
<polygon points="679.6,1135.3 723.5,1135.6 723.5,1299.3 679.6,1299.2" fill="#98e600"/>
<polygon points="723.5,1135.6 766.7,1135.9 766.7,1299.5 723.5,1299.3" fill="#98e600"/>
<polygon points="766.7,1135.9 832.7,1136.4 832.7,1299.7 766.7,1299.5" fill="#98e600"/>
<polygon points="832.7,1136.4 920,1137 920,1300 832.7,1299.7" fill="#98e600"/>
<polygon points="321.7,1366 418.5,1366.6 418.5,1545.3 321.7,1544.7" fill="#e1e1e1"/>
<polygon points="418.5,1366.6 461.8,1366.9 461.8,1545.5 418.5,1545.3" fill="#e1e1e1"/>
<polygon points="461.8,1366.9 505,1367.2 505,1545.7 461.8,1545.5" fill="#e1e1e1"/>
<polygon points="505,1367.2 549.4,1367.5 549.4,1546 505,1545.7" fill="#98e600"/>
<polygon points="549.4,1367.5 636,1368.1 636,1546.5 549.4,1546" fill="#98e600"/>
<polygon points="636,1368.1 679.6,1368.4 679.6,1546.7 636,1546.5" fill="#98e600"/>
<polygon points="679.6,1368.4 734.6,1368.8 734.6,1547 679.6,1546.7" fill="#98e600"/>
<polygon points="734.6,1368.8 788.6,1369.1 788.6,1547.4 734.6,1547" fill="#98e600"/>
<polygon points="788.6,1369.1 854.5,1369.6 854.5,1547.7 788.6,1547.4" fill="#98e600"/>
<polygon points="854.5,1369.6 920,1370 920,1548.1 854.5,1547.7" fill="#98e600"/>
<polygon points="985,1137 1038,1137.3 1038,1301.2 985,1301" fill="#98e600"/>
<polygon points="1038,1137.3 1092.8,1137.7 1092.8,1301.5 1038,1301.2" fill="#e1e1e1"/>
<polygon points="1092.8,1137.7 1136.9,1137.9 1136.9,1301.7 1092.8,1301.5" fill="#98e600"/>
<polygon points="1136.9,1137.9 1180.2,1138.2 1180.2,1301.9 1136.9,1301.7" fill="#e1e1e1"/>
<polygon points="1180.2,1138.2 1223.5,1138.5 1223.5,1302.1 1180.2,1301.9" fill="#e1e1e1"/>
<polygon points="1223.5,1138.5 1267.1,1138.7 1267.1,1302.3 1223.5,1302.1" fill="#98e600"/>
<polygon points="1267.1,1138.7 1311.2,1139 1311.2,1302.5 1267.1,1302.3" fill="#e1e1e1"/>
<polygon points="1311.2,1139 1354.5,1139.3 1354.5,1302.7 1311.2,1302.5" fill="#e1e1e1"/>
<polygon points="1354.5,1139.3 1397.8,1139.5 1397.8,1302.9 1354.5,1302.7" fill="#98e600"/>
<polygon points="1397.8,1139.5 1441.9,1139.8 1441.9,1303.1 1397.8,1302.9" fill="#98e600"/>
<polygon points="1441.9,1139.8 1485.5,1140.1 1485.5,1303.3 1441.9,1303.1" fill="#e1e1e1"/>
<polygon points="1485.5,1140.1 1528.8,1140.3 1528.8,1303.5 1485.5,1303.3" fill="#e1e1e1"/>
<polygon points="1528.8,1140.3 1583.2,1140.7 1583.2,1303.7 1528.8,1303.5" fill="#e1e1e1"/>
<polygon points="1583.2,1140.7 1637.6,1141 1637.6,1304 1583.2,1303.7" fill="#98e600"/>
<polygon points="985,1372 1048.7,1372.4 1048.7,1483 985,1483" fill="#98e600"/>
<polygon points="1048.7,1372.4 1103.1,1372.7 1103.1,1549.7 1048.7,1549.4" fill="#98e600"/>
<polygon points="1103.1,1372.7 1156.7,1373.1 1156.7,1550.1 1103.1,1549.7" fill="#e1e1e1"/>
<polygon points="1156.7,1373.1 1223.5,1373.5 1223.5,1550.5 1156.7,1550.1" fill="#e1e1e1"/>
<polygon points="1223.5,1373.5 1267.1,1373.7 1267.1,1550.7 1223.5,1550.5" fill="#98e600"/>
<polygon points="1267.1,1373.7 1311.2,1374 1311.2,1551 1267.1,1550.7" fill="#98e600"/>
<polygon points="1311.2,1374 1354.5,1374.3 1354.5,1551.3 1311.2,1551" fill="#e1e1e1"/>
<polygon points="1354.5,1374.3 1397.8,1374.5 1397.8,1551.5 1354.5,1551.3" fill="#e1e1e1"/>
<polygon points="1397.8,1374.5 1485.5,1375.1 1485.5,1552.1 1397.8,1551.5" fill="#98e600"/>
<polygon points="1485.5,1375.1 1540,1375.4 1540,1552.4 1485.5,1552.1" fill="#98e600"/>
<polygon points="1540,1375.4 1584,1375.7 1584,1552.7 1540,1552.4" fill="#98e600"/>
<polygon points="1584,1375.7 1638.8,1376 1638.8,1553 1584,1552.7" fill="#98e600"/>
<polygon points="1703.3,1141 1810.4,1141.8 1810.4,1305.5 1703.3,1305" fill="#e1e1e1"/>
<polygon points="1810.4,1141.8 1854.5,1142.2 1854.5,1305.7 1810.4,1305.5" fill="#98e600"/>
<polygon points="1854.5,1142.2 1898.2,1142.5 1898.2,1305.9 1854.5,1305.7" fill="#e1e1e1"/>
<polygon points="1898.2,1142.5 1942.3,1142.8 1942.3,1306.1 1898.2,1305.9" fill="#98e600"/>
<polygon points="1942.3,1142.8 2028.8,1143.5 2028.8,1306.5 1942.3,1306.1" fill="#98e600"/>
<polygon points="2028.8,1143.5 2116.2,1144.2 2116.2,1306.9 2028.8,1306.5" fill="#e1e1e1"/>
<polygon points="2116.2,1144.2 2159.9,1144.5 2159.9,1307.1 2116.2,1306.9" fill="#e1e1e1"/>
<polygon points="2159.9,1144.5 2219.6,1145 2219.6,1307.4 2159.9,1307.1" fill="#e1e1e1"/>
<polygon points="2219.6,1145 2259.6,1145.3 2259.6,1209.9 2269,1209.9 2269,1307 2219.6,1307" fill="#98e600"/>
<polygon points="2259.6,1145.3 2312.3,1145.7 2312.3,1307.5 2269,1307.3 2269,1209.9 2259.6,1209.9" fill="#e1e1e1"/>
<polygon points="2312.3,1145.7 2356.4,1146 2356.4,1308 2312.3,1307.8" fill="#e1e1e1"/>
<polygon points="1703.3,1374 1768,1374.4 1768,1554.8 1703.3,1554.4" fill="#98e600"/>
<polygon points="1768,1374.4 1832.3,1374.8 1832.3,1555.2 1768,1554.8" fill="#98e600"/>
<polygon points="1832.3,1374.8 1898.2,1375.2 1898.2,1555.6 1832.3,1555.2" fill="#e1e1e1"/>
<polygon points="1898.2,1375.2 1942.3,1375.5 1942.3,1555.9 1898.2,1555.6" fill="#98e600"/>
<polygon points="1942.3,1375.5 1985.5,1375.7 1985.5,1556.2 1942.3,1555.9" fill="#98e600"/>
<polygon points="1985.5,1375.7 2072.9,1376.3 2072.9,1556.7 1985.5,1556.2" fill="#e1e1e1"/>
<polygon points="2072.9,1376.3 2160.7,1376.8 2160.7,1557.3 2072.9,1556.7" fill="#98e600"/>
<polygon points="2160.7,1376.8 2219.6,1377.2 2219.6,1557.6 2160.7,1557.3" fill="#e1e1e1"/>
<polygon points="2219.6,1377.2 2290.5,1377.6 2290.5,1558.1 2219.6,1557.6" fill="#98e600"/>
<polygon points="2290.5,1377.6 2356.4,1378 2356.4,1558.5 2290.5,1558.1" fill="#98e600"/>
<polygon points="2421.5,1146.4 2660,1147.5 2660,1310.1 2421.5,1309" fill="#e1e1e1"/>
<polygon points="2660,1147.5 2703.9,1147.7 2703.9,1310.3 2660,1310.1" fill="#98e600"/>
<polygon points="2703.9,1147.7 2747.3,1147.9 2747.3,1310.5 2703.9,1310.3" fill="#98e600"/>
<polygon points="2747.3,1147.9 2791,1148.2 2791,1310.7 2747.3,1310.5" fill="#98e600"/>
<polygon points="2791,1148.2 2834.9,1148.4 2834.9,1310.9 2791,1310.7" fill="#98e600"/>
<polygon points="2834.9,1148.4 2877.9,1148.6 2877.9,1311.1 2834.9,1310.9" fill="#e1e1e1"/>
<polygon points="2877.9,1148.6 2922,1148.8 2922,1311.3 2877.9,1311.1" fill="#98e600"/>
<polygon points="2922,1148.8 3073.8,1149.5 3073.8,1312 2922,1311.3" fill="#e1e1e1"/>
<polygon points="2422,1381 3075,1385 3075.4,1891.2 2422.7,1886" fill="#e1e1e1"/>
</g>
<polygon points="322,1296.6 3075,1313.5 3075,1385 322,1368.7" fill="none" stroke="#000" stroke-width="6.8"/>
<g clip-path="url(#ic)">
<polygon points="118,447 166.7,447 166.7,484.6 215.4,484.6 215.4,447 241.5,447 241.5,436 607,436 607,780 571,780 571,772 546,759 526,743 513,720 511,695 505,683 400,681 400,669 393.8,669 393.8,681 307,681 301,695 297,714 282.5,733 254,761.5 241,776 217,782 201,792 188.7,788 188.7,770 157.3,756 154.2,734 133.8,709 137,652.6 133.8,596 129,577 118,567.8" fill="#fff"/>
<polyline points="216.7,484.3 554.8,484.3" fill="none" stroke="#e0e0e0" stroke-width="7" stroke-linejoin="round" stroke-linecap="round"/>
<polyline points="216.7,510.5 309.5,510.5 359.5,543.8" fill="none" stroke="#e0e0e0" stroke-width="7" stroke-linejoin="round" stroke-linecap="round"/>
<polyline points="190.5,560.5 378.6,560.5" fill="none" stroke="#e0e0e0" stroke-width="7" stroke-linejoin="round" stroke-linecap="round"/>
<polyline points="135.7,581.9 214.3,581.9" fill="none" stroke="#e0e0e0" stroke-width="7" stroke-linejoin="round" stroke-linecap="round"/>
<polyline points="169,658.1 323.8,658.1" fill="none" stroke="#e0e0e0" stroke-width="7" stroke-linejoin="round" stroke-linecap="round"/>
<polyline points="135.7,689 214.3,689" fill="none" stroke="#e0e0e0" stroke-width="7" stroke-linejoin="round" stroke-linecap="round"/>
<polyline points="309.5,534.3 361.9,534.3" fill="none" stroke="#e0e0e0" stroke-width="7" stroke-linejoin="round" stroke-linecap="round"/>
<polyline points="409.5,574.8 438.1,577.1 485.7,601 516.7,586.7 564.3,596.2 576.2,608.1 607.1,608.1" fill="none" stroke="#e0e0e0" stroke-width="7" stroke-linejoin="round" stroke-linecap="round"/>
<polyline points="323.8,658.1 385.7,629.5 447.6,603.3" fill="none" stroke="#e0e0e0" stroke-width="7" stroke-linejoin="round" stroke-linecap="round"/>
<polyline points="564.3,648.6 607.1,634.3" fill="none" stroke="#e0e0e0" stroke-width="7" stroke-linejoin="round" stroke-linecap="round"/>
<polyline points="264.3,441.4 264.3,658.1" fill="none" stroke="#e0e0e0" stroke-width="7" stroke-linejoin="round" stroke-linecap="round"/>
<polyline points="166.7,567.6 166.7,693.8 171.4,705.7 190.5,736.7 190.5,751" fill="none" stroke="#e0e0e0" stroke-width="7" stroke-linejoin="round" stroke-linecap="round"/>
<polyline points="314.3,440.2 314.3,615.2" fill="none" stroke="#e0e0e0" stroke-width="7" stroke-linejoin="round" stroke-linecap="round"/>
<polyline points="361.9,440.2 361.9,562.9" fill="none" stroke="#e0e0e0" stroke-width="7" stroke-linejoin="round" stroke-linecap="round"/>
<polyline points="386.9,440.2 386.9,553.3" fill="none" stroke="#e0e0e0" stroke-width="7" stroke-linejoin="round" stroke-linecap="round"/>
<polyline points="435.7,440.2 435.7,553.3" fill="none" stroke="#e0e0e0" stroke-width="7" stroke-linejoin="round" stroke-linecap="round"/>
<polyline points="558.3,440.2 558.3,596.2" fill="none" stroke="#e0e0e0" stroke-width="7" stroke-linejoin="round" stroke-linecap="round"/>
<polyline points="266.7,441.4 273.8,460.5 266.7,474.8 266.7,484.3" fill="none" stroke="#e0e0e0" stroke-width="7" stroke-linejoin="round" stroke-linecap="round"/>
<polyline points="135.7,491.4 192.9,498.6 231,503.3 309.5,510.5" fill="none" stroke="#e0e0e0" stroke-width="7" stroke-linejoin="round" stroke-linecap="round"/>
<polyline points="528.6,441.4 509.5,496.2 504.8,529.5" fill="none" stroke="#e0e0e0" stroke-width="7" stroke-linejoin="round" stroke-linecap="round"/>
<polyline points="119,520 171.4,543.8 195.2,555.7 214.3,560.5" fill="none" stroke="#e0e0e0" stroke-width="7" stroke-linejoin="round" stroke-linecap="round"/>
<polyline points="215.5,489 215.5,705.7 254.8,705.7" fill="none" stroke="#ababab" stroke-width="7.2" stroke-linejoin="round" stroke-linecap="round"/>
<polyline points="128.6,453.3 129.8,534.3" fill="none" stroke="#ababab" stroke-width="7.2" stroke-linejoin="round" stroke-linecap="round"/>
<polyline points="460.7,440.2 460.7,534.3 607.1,534.3" fill="none" stroke="#ababab" stroke-width="7.2" stroke-linejoin="round" stroke-linecap="round"/>
<polyline points="460.7,536.7 409.5,567.6" fill="none" stroke="#ababab" stroke-width="7.2" stroke-linejoin="round" stroke-linecap="round"/>
<polyline points="181,762.9 252.4,712.9 361.9,615.2 397.6,574.8 409.5,567.6" fill="none" stroke="#ababab" stroke-width="7.2" stroke-linejoin="round" stroke-linecap="round"/>
<polyline points="419,572.4 442.9,629.5 450,655.7 461.9,672.4 471.4,677.1" fill="none" stroke="#ababab" stroke-width="7.2" stroke-linejoin="round" stroke-linecap="round"/>
<polyline points="519,577.1 521.4,589 535.7,601 552.4,629.5 576.2,662.9 590.5,705.7 602.4,772.4" fill="none" stroke="#ababab" stroke-width="7.2" stroke-linejoin="round" stroke-linecap="round"/>
<polyline points="352.4,617.6 373.8,643.8 373.8,677.1" fill="none" stroke="#ababab" stroke-width="7.2" stroke-linejoin="round" stroke-linecap="round"/>
<polyline points="114.3,543.8 131,542.6 147.6,551 185.7,570 266.7,571.2 326.2,571.2 373.8,574.8 397.6,562.9 409.5,570 433.3,560.5 452.4,570 504.8,570 528.6,573.6 564.3,571.2 607.1,577.1" fill="none" stroke="#808080" stroke-width="8" stroke-linejoin="round" stroke-linecap="round"/>
<polyline points="403.6,434.3 406,515.2 398.8,539 397.6,560.5 397.6,562.9" fill="none" stroke="#808080" stroke-width="8" stroke-linejoin="round" stroke-linecap="round"/>
<polyline points="397.6,562.9 373.8,581.9 350,608.1 326.2,620 307.1,634.3 285.7,639 271.4,648.6 267.9,670 270.2,705.7 281,729.5" fill="none" stroke="#808080" stroke-width="8" stroke-linejoin="round" stroke-linecap="round"/>
</g>
<polygon points="118,447 166.7,447 166.7,484.6 215.4,484.6 215.4,447 241.5,447 241.5,436 607,436 607,780 571,780 571,772 546,759 526,743 513,720 511,695 505,683 400,681 400,669 393.8,669 393.8,681 307,681 301,695 297,714 282.5,733 254,761.5 241,776 217,782 201,792 188.7,788 188.7,770 157.3,756 154.2,734 133.8,709 137,652.6 133.8,596 129,577 118,567.8" fill="none" stroke="#4d4d4d" stroke-width="7.4" stroke-linejoin="round"/>
<polygon points="276.5,573 283.9,594.3 306.5,594.8 288.5,608.4 295,630 276.5,617.1 258,630 264.5,608.4 246.5,594.8 269.1,594.3" fill="#1570f3" stroke="#000" stroke-width="2.6" stroke-linejoin="miter"/>
<rect x="2605.2" y="2116.2" width="598.4" height="197.8" fill="#fff"/>
<rect x="2636.2" y="2162.5" width="108.6" height="46.3" fill="#98e600" stroke="#6e6e6e" stroke-width="2"/>
<rect x="2636.2" y="2229.2" width="108.6" height="45.6" fill="#e1e1e1" stroke="#6e6e6e" stroke-width="2"/>
<text x="2767" y="2197.8" font-size="37" fill="#000" font-family="'DejaVu Sans Condensed', 'DejaVu Sans', sans-serif" textLength="283" lengthAdjust="spacingAndGlyphs">Eligible Properties</text>
<text x="2767" y="2263.7" font-size="37" fill="#000" font-family="'DejaVu Sans Condensed', 'DejaVu Sans', sans-serif" textLength="314" lengthAdjust="spacingAndGlyphs">Ineligible Properties</text>
<text x="0" y="0" font-size="48.5" fill="#000" font-family="'DejaVu Sans Condensed', 'DejaVu Sans', sans-serif" text-anchor="middle" transform="translate(3144.1,2168.4) scale(1.175,1)">N</text>
<polygon points="3143.6,2178 3108.1,2297.3 3143.3,2251" fill="#000"/>
<polygon points="3143.4,2182 3176.3,2293.5 3143.4,2253" fill="#fff" stroke="#000" stroke-width="3.4" stroke-linejoin="miter" stroke-miterlimit="10"/>
<text x="670.5" y="2377" font-size="48" fill="#000" font-family="'DejaVu Sans Condensed', 'DejaVu Sans', sans-serif" textLength="1955.5" lengthAdjust="spacingAndGlyphs" stroke="#fff" stroke-width="16" stroke-linejoin="round" paint-order="stroke">24-hour Emergency Contact: St. Paul Regional Water Services Dispatch at 651-266-6868</text>
</g>
<rect x="67.2" y="65.7" width="3165.6" height="2389.8" fill="none" stroke="#000" stroke-width="3.6"/>
<line x1="65.4" y1="374.6" x2="3234.6" y2="374.6" stroke="#000" stroke-width="4"/>
<g>
<polygon points="155,78 374.5,78 376.6,283.8 372.4,285.6 368.1,287.2 363.9,288.3 359.7,288.8 355.5,288.6 351.2,287.9 347,286.6 342.8,284.9 338.6,283 334.4,281.2 330.1,279.6 325.9,278.4 321.7,277.9 317.5,277.9 313.2,278.6 309,279.9 304.8,281.5 300.6,283.4 296.3,285.2 292.1,286.9 287.9,288.1 283.6,288.7 279.4,288.7 275.2,288.1 271,286.9 266.8,285.3 262.5,283.4 258.3,281.6 254.1,279.9 249.8,278.6 245.6,277.9 241.4,277.8 237.2,278.4 232.9,279.5 228.7,281.1 224.5,283 220.3,284.8 216,286.5 211.8,287.8 207.6,288.6 155,283" fill="#02428a"/>
<polygon points="161,108 222,143 222,146 220.5,146 220.5,372 180.6,372 180.6,143" fill="#fff"/>
<polyline points="161,107.5 222.5,143" stroke="#02428a" stroke-width="1.2" fill="none"/>
<polyline points="207.6,288.6 211.8,287.8 216,286.5 220.3,284.8 224.5,283 228.7,281.1 232.9,279.5 237.2,278.4 241.4,277.8 245.6,277.9 249.8,278.6 254.1,279.9 258.3,281.6 262.5,283.4 266.8,285.3 271,286.9 275.2,288.1 279.4,288.7 283.6,288.7 287.9,288.1 292.1,286.9 296.3,285.2 300.6,283.4 304.8,281.5 309,279.9 313.2,278.6 317.5,277.9 321.7,277.9 325.9,278.4 330.1,279.6 334.4,281.2 338.6,283 342.8,284.9 347,286.6 351.2,287.9 355.5,288.6 359.7,288.8 363.9,288.3 368.1,287.2 372.4,285.6 376.6,283.8" fill="none" stroke="#a7a9cd" stroke-width="8.6" stroke-linecap="round"/>
<polyline points="207.6,311.5 211.8,310.7 216,309.4 220.3,307.7 224.5,305.9 228.7,304 232.9,302.4 237.2,301.3 241.4,300.7 245.6,300.8 249.8,301.5 254.1,302.8 258.3,304.5 262.5,306.3 266.8,308.2 271,309.8 275.2,311 279.4,311.6 283.6,311.6 287.9,311 292.1,309.8 296.3,308.1 300.6,306.3 304.8,304.4 309,302.8 313.2,301.5 317.5,300.8 321.7,300.8 325.9,301.3 330.1,302.5 334.4,304.1 338.6,305.9 342.8,307.8 347,309.5 351.2,310.8 355.5,311.5 359.7,311.7 363.9,311.2 368.1,310.1 372.4,308.5 376.6,306.7" fill="none" stroke="#a7a9cd" stroke-width="8.6" stroke-linecap="round"/>
<polyline points="207.6,334.3 211.8,333.5 216,332.2 220.3,330.5 224.5,328.7 228.7,326.8 232.9,325.2 237.2,324.1 241.4,323.5 245.6,323.6 249.8,324.3 254.1,325.6 258.3,327.3 262.5,329.1 266.8,331 271,332.6 275.2,333.8 279.4,334.4 283.6,334.4 287.9,333.8 292.1,332.6 296.3,330.9 300.6,329.1 304.8,327.2 309,325.6 313.2,324.3 317.5,323.6 321.7,323.6 325.9,324.1 330.1,325.3 334.4,326.9 338.6,328.7 342.8,330.6 347,332.3 351.2,333.6 355.5,334.3 359.7,334.5 363.9,334 368.1,332.9 372.4,331.3 376.6,329.5" fill="none" stroke="#a7a9cd" stroke-width="8.6" stroke-linecap="round"/>
<polygon points="73,219 83,215 83,224 76,224" fill="#02428a"/>
<polygon points="220,213 228,219 220,226" fill="#02428a"/>
<polygon points="81,143 141.5,108.5 143,108.5 120.5,143 120.5,366 83,346.5 83,150 81,146" fill="#02428a"/>
<polygon points="120.5,143 143,108.5 160.5,108.5 180.6,143 180.6,366 120.5,366" fill="#a7a9cd"/>
<rect x="143.5" y="84" width="17" height="25" fill="#a7a9cd"/>
<rect x="143.5" y="86" width="4" height="22" fill="#02428a"/><rect x="150" y="86" width="3" height="22" fill="#02428a"/><rect x="156" y="86" width="3" height="22" fill="#02428a"/>
<polygon points="141.5,86 151.6,77 162,86" fill="#a7a9cd"/>
<path d="M94.6,203.4 V180 A8.8,9.7 0 0 1 112.2,180 V203.4 Z" fill="#fff"/>
<path d="M136,202.4 V184 A14.5,13.7 0 0 1 165,184 V202.4 Z" fill="#02428a"/>
<path d="M190,202.4 V179 A7.25,7.7 0 0 1 204.5,179 V202.4 Z" fill="#02428a"/>
<text x="219" y="128.8" font-size="29.5" fill="#fff" font-family="'DejaVu Sans Condensed', 'DejaVu Sans', sans-serif" textLength="140" lengthAdjust="spacingAndGlyphs" font-weight="bold">SAINT PAUL</text>
<text x="234.6" y="170.3" font-size="29.5" fill="#fff" font-family="'DejaVu Sans Condensed', 'DejaVu Sans', sans-serif" textLength="124.4" lengthAdjust="spacingAndGlyphs" font-weight="bold">REGIONAL</text>
<text x="273" y="212.8" font-size="29.5" fill="#fff" font-family="'DejaVu Sans Condensed', 'DejaVu Sans', sans-serif" textLength="86" lengthAdjust="spacingAndGlyphs" font-weight="bold">WATER</text>
<text x="246" y="255.3" font-size="29.5" fill="#fff" font-family="'DejaVu Sans Condensed', 'DejaVu Sans', sans-serif" textLength="113" lengthAdjust="spacingAndGlyphs" font-weight="bold">SERVICES</text>
</g>
<text x="411.7" y="203.4" font-size="83" fill="#000" font-family="'DejaVu Sans Condensed', 'DejaVu Sans', sans-serif" textLength="1066" lengthAdjust="spacingAndGlyphs" font-weight="bold">Lead Free SPRWS Project</text>
<text x="411.7" y="303.7" font-size="83" fill="#000" font-family="'DejaVu Sans Condensed', 'DejaVu Sans', sans-serif" textLength="1320" lengthAdjust="spacingAndGlyphs" font-weight="bold">Portland - Lexington to Victoria</text>
<text x="1902" y="2490.6" font-size="25.6" fill="#7f7f7f" font-family="'DejaVu Sans Condensed', 'DejaVu Sans', sans-serif" textLength="1321" lengthAdjust="spacingAndGlyphs">Data courtesy of the MN DNR, MN Geospatial Commons, MRCC Collaborative, Metropolitan Council, and Ramsey County</text>
</svg>
</body></html>
